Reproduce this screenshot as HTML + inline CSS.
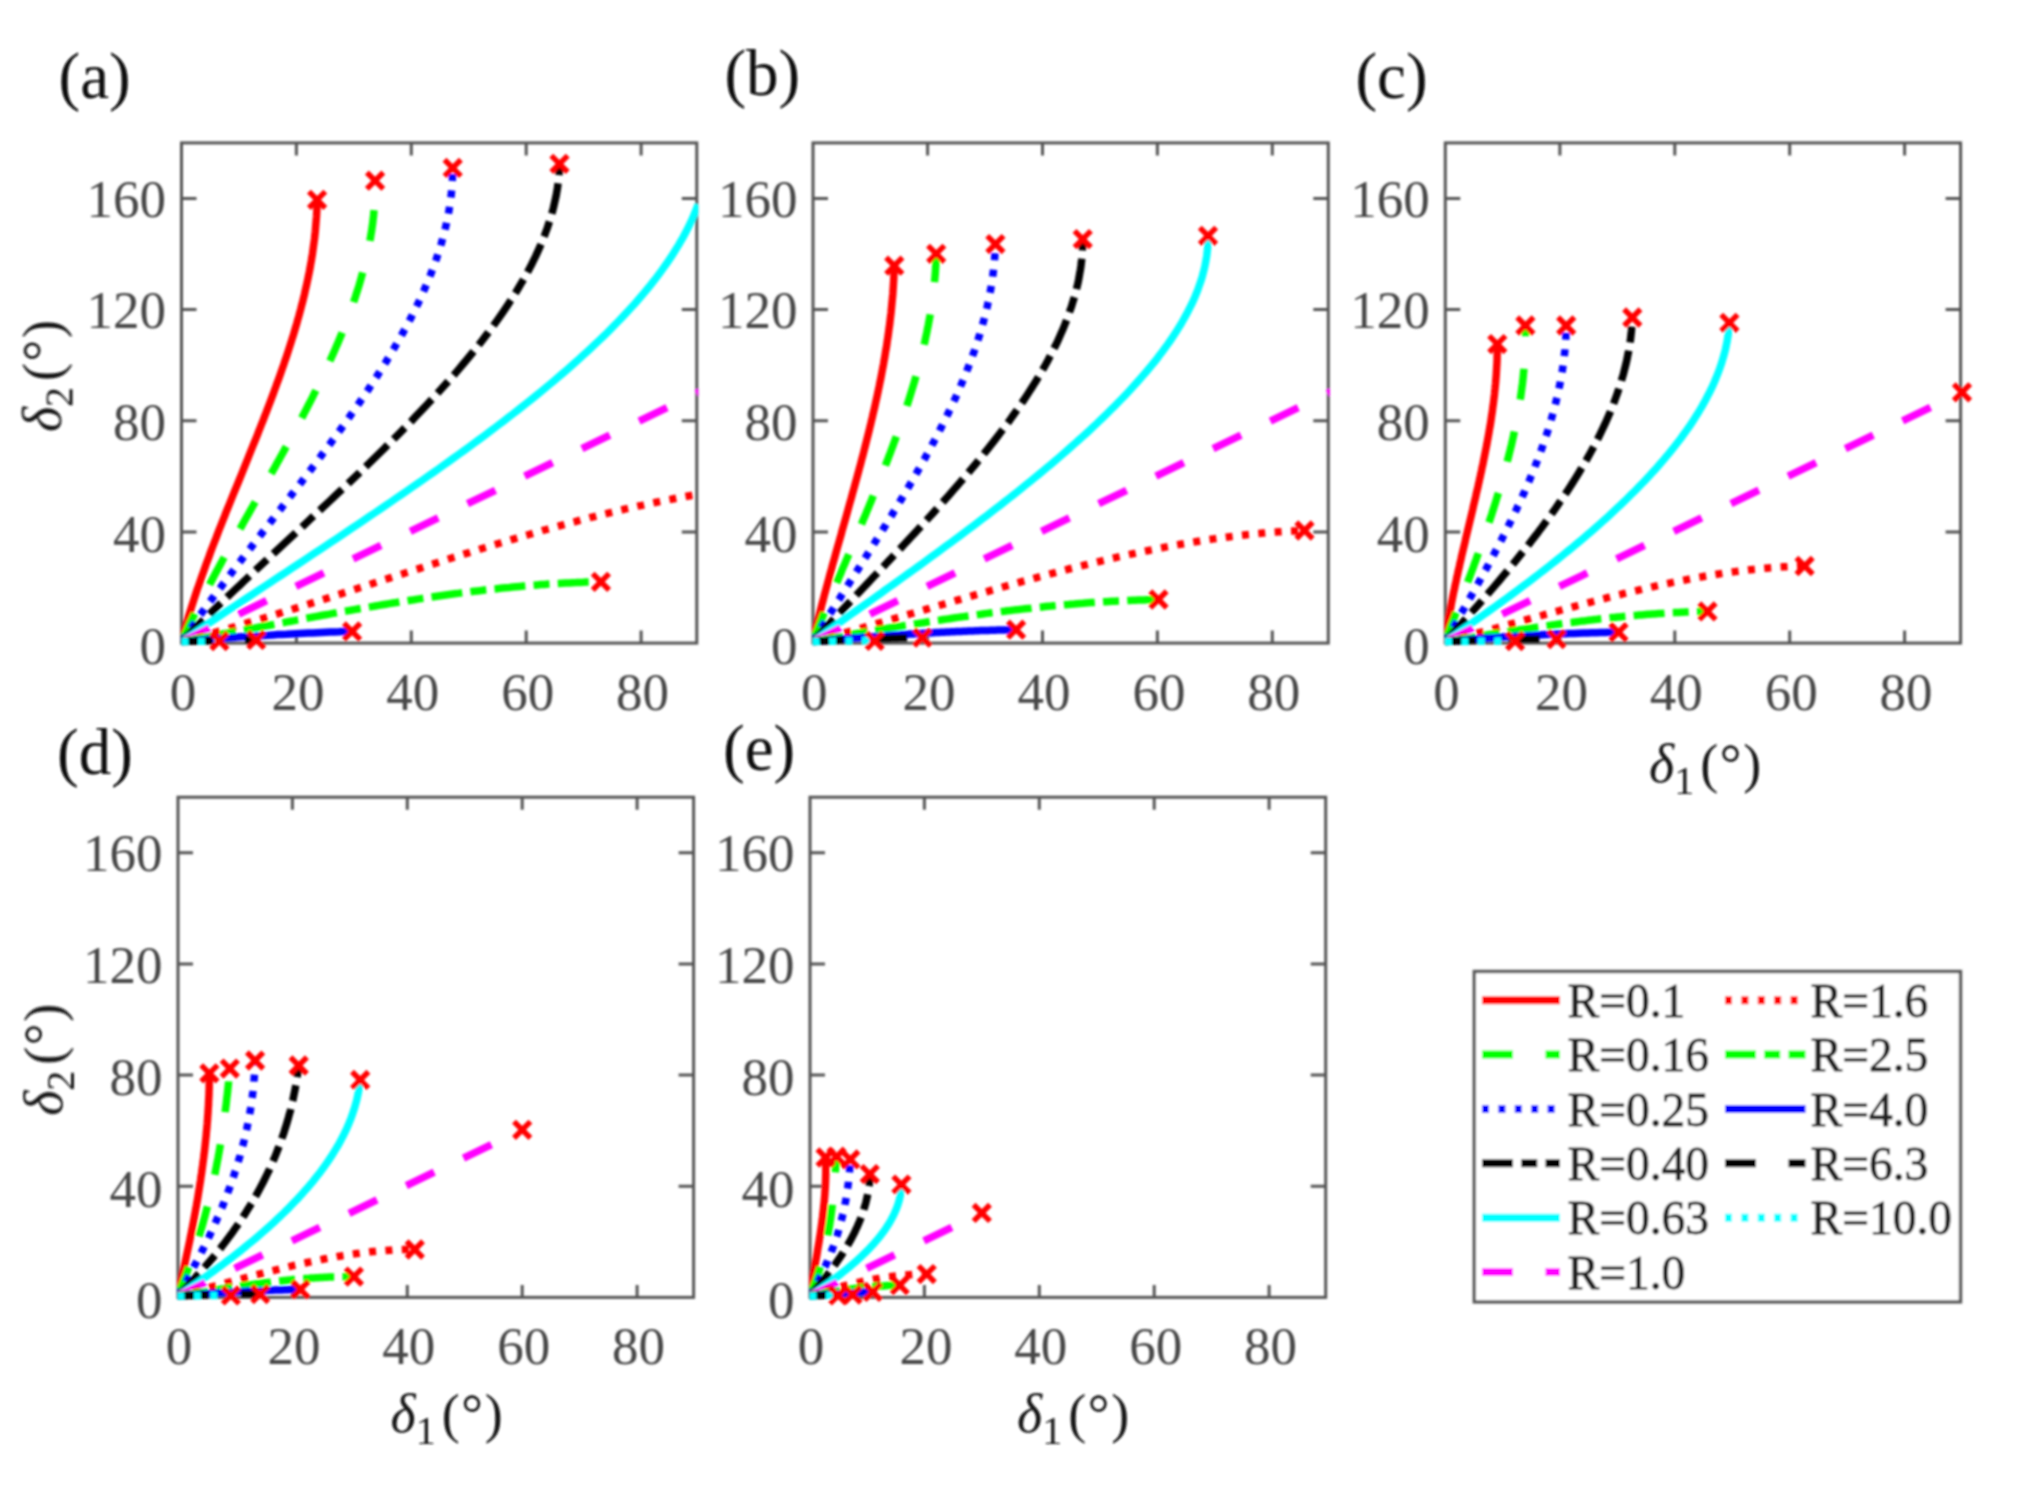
<!DOCTYPE html>
<html lang="en">
<head>
<meta charset="utf-8">
<title>Figure: delta2 versus delta1</title>
<style>
html,body{margin:0;padding:0;background:#ffffff;}
body{width:2030px;height:1488px;overflow:hidden;}
svg{display:block;font-family:"Liberation Serif", "DejaVu Serif", serif;}
svg text{font-family:"Liberation Serif", "DejaVu Serif", serif;stroke-width:0.8px;stroke-linejoin:round;}
</style>
</head>
<body>
<svg width="2030" height="1488" viewBox="0 0 2030 1488" role="img" aria-label="Five panels of delta2 versus delta1 curves for different R">
<defs><filter id="soft" x="0" y="0" width="2030" height="1488" filterUnits="userSpaceOnUse"><feGaussianBlur stdDeviation="0.9"/></filter></defs>
<rect width="2030" height="1488" fill="#ffffff"/>
<g filter="url(#soft)">
<!-- panel a -->
<g font-size="53" fill="#474747" text-anchor="middle">
<text x="183" y="710.1">0</text>
<text x="297.9" y="710.1">20</text>
<text x="412.8" y="710.1">40</text>
<text x="527.7" y="710.1">60</text>
<text x="642.6" y="710.1">80</text>
</g>
<g font-size="53" fill="#474747" text-anchor="end">
<text x="166" y="664.1">0</text>
<text x="166" y="552.2">40</text>
<text x="166" y="440.3">80</text>
<text x="166" y="328.4">120</text>
<text x="166" y="216.5">160</text>
</g>
<clipPath id="clip-a"><rect x="180.5" y="141.9" width="517.8" height="506.2"/></clipPath>
<rect x="181.5" y="142.9" width="515.3" height="500.2" fill="none" stroke="#555555" stroke-width="3.0"/>
<path d="M296.4 643.1v-12.5M296.4 142.9v12.5M411.3 643.1v-12.5M411.3 142.9v12.5M526.2 643.1v-12.5M526.2 142.9v12.5M641.1 643.1v-12.5M641.1 142.9v12.5M181.5 531.9h15M696.8 531.9h-15M181.5 420.8h15M696.8 420.8h-15M181.5 309.6h15M696.8 309.6h-15M181.5 198.5h15M696.8 198.5h-15" stroke="#555555" stroke-width="3.0" fill="none"/>
<g clip-path="url(#clip-a)" fill="none" stroke-width="7.5">
<path d="M181.5 641.6L182.5 637.9L183.5 634.2L184.5 630.5L185.6 626.8L186.6 623.1L187.7 619.4L188.8 615.7L190 612L191.1 608.3L192.3 604.6L193.5 600.9L194.7 597.2L195.9 593.5L197.1 589.8L198.4 586.2L199.7 582.5L201 578.8L202.3 575.1L203.6 571.4L204.9 567.7L206.2 564L207.6 560.3L209 556.6L210.3 552.9L211.7 549.2L213.1 545.5L214.5 541.8L216 538.1L217.4 534.4L218.8 530.7L220.3 527L221.7 523.3L223.2 519.6L224.7 515.9L226.1 512.2L227.6 508.5L229.1 504.8L230.6 501.1L232.1 497.4L233.6 493.7L235.1 490L236.6 486.3L238.1 482.7L239.6 479L241.1 475.3L242.6 471.6L244.1 467.9L245.6 464.2L247.1 460.5L248.5 456.8L250 453.1L251.5 449.4L253 445.7L254.5 442L256 438.3L257.5 434.6L258.9 430.9L260.4 427.2L261.8 423.5L263.3 419.8L264.7 416.1L266.2 412.4L267.6 408.7L269 405L270.4 401.3L271.8 397.6L273.2 393.9L274.5 390.2L275.9 386.5L277.2 382.8L278.6 379.2L279.9 375.5L281.2 371.8L282.5 368.1L283.8 364.4L285 360.7L286.3 357L287.5 353.3L288.7 349.6L289.9 345.9L291.1 342.2L292.2 338.5L293.4 334.8L294.5 331.1L295.6 327.4L296.7 323.7L297.7 320L298.8 316.3L299.8 312.6L300.8 308.9L301.7 305.2L302.7 301.5L303.6 297.8L304.5 294.1L305.3 290.4L306.2 286.7L307 283L307.8 279.3L308.5 275.7L309.3 272L310 268.3L310.6 264.6L311.3 260.9L311.9 257.2L312.5 253.5L313 249.8L313.5 246.1L314 242.4L314.5 238.7L314.9 235L315.3 231.3L315.6 227.6L315.9 223.9L316.2 220.2L316.5 216.5L316.7 212.8L316.9 209.1L317 205.4L317.1 201.7" stroke="#ff0000"/>
<path d="M181.5 641.6L183.3 637.7L185.1 633.9L186.9 630L188.7 626.1L190.5 622.2L192.4 618.4L194.3 614.5L196.2 610.6L198.2 606.7L200.1 602.9L202.1 599L204.1 595.1L206.1 591.2L208.1 587.4L210.1 583.5L212.2 579.6L214.2 575.8L216.3 571.9L218.4 568L220.5 564.1L222.6 560.3L224.7 556.4L226.8 552.5L229 548.6L231.1 544.8L233.3 540.9L235.4 537L237.6 533.1L239.8 529.3L242 525.4L244.1 521.5L246.3 517.7L248.5 513.8L250.7 509.9L252.9 506L255.1 502.2L257.3 498.3L259.5 494.4L261.7 490.5L263.9 486.7L266 482.8L268.2 478.9L270.4 475L272.6 471.2L274.8 467.3L276.9 463.4L279.1 459.6L281.2 455.7L283.4 451.8L285.5 447.9L287.7 444.1L289.8 440.2L291.9 436.3L294 432.4L296.1 428.6L298.1 424.7L300.2 420.8L302.3 416.9L304.3 413.1L306.3 409.2L308.3 405.3L310.3 401.5L312.3 397.6L314.2 393.7L316.2 389.8L318.1 386L320 382.1L321.8 378.2L323.7 374.3L325.5 370.5L327.3 366.6L329.1 362.7L330.9 358.8L332.6 355L334.4 351.1L336 347.2L337.7 343.4L339.3 339.5L341 335.6L342.5 331.7L344.1 327.9L345.6 324L347.1 320.1L348.6 316.2L350 312.4L351.4 308.5L352.8 304.6L354.1 300.7L355.4 296.9L356.6 293L357.9 289.1L359.1 285.3L360.2 281.4L361.3 277.5L362.4 273.6L363.4 269.8L364.4 265.9L365.4 262L366.3 258.1L367.2 254.3L368 250.4L368.8 246.5L369.6 242.6L370.3 238.8L370.9 234.9L371.6 231L372.1 227.2L372.7 223.3L373.1 219.4L373.6 215.5L373.9 211.7L374.3 207.8L374.5 203.9L374.8 200L374.9 196.2L375.1 192.3L375.1 188.4L375.2 184.5L375.1 180.7" stroke="#00ff00" stroke-dasharray="31 32.5"/>
<path d="M181.5 641.6L184.2 637.6L187 633.6L189.8 629.7L192.6 625.7L195.4 621.7L198.3 617.7L201.1 613.7L204 609.8L206.9 605.8L209.8 601.8L212.8 597.8L215.7 593.8L218.7 589.9L221.7 585.9L224.7 581.9L227.7 577.9L230.7 573.9L233.7 570L236.7 566L239.8 562L242.8 558L245.8 554L248.9 550.1L252 546.1L255 542.1L258.1 538.1L261.2 534.1L264.3 530.1L267.3 526.2L270.4 522.2L273.5 518.2L276.6 514.2L279.7 510.2L282.7 506.3L285.8 502.3L288.9 498.3L291.9 494.3L295 490.3L298.1 486.4L301.1 482.4L304.1 478.4L307.2 474.4L310.2 470.4L313.2 466.5L316.2 462.5L319.2 458.5L322.1 454.5L325.1 450.5L328 446.6L331 442.6L333.9 438.6L336.8 434.6L339.7 430.6L342.5 426.7L345.4 422.7L348.2 418.7L351 414.7L353.8 410.7L356.6 406.8L359.3 402.8L362 398.8L364.7 394.8L367.4 390.8L370 386.9L372.6 382.9L375.2 378.9L377.8 374.9L380.3 370.9L382.8 367L385.3 363L387.7 359L390.1 355L392.5 351L394.8 347L397.1 343.1L399.4 339.1L401.6 335.1L403.8 331.1L406 327.1L408.1 323.2L410.2 319.2L412.2 315.2L414.2 311.2L416.2 307.2L418.1 303.3L420 299.3L421.8 295.3L423.6 291.3L425.3 287.3L427 283.4L428.7 279.4L430.3 275.4L431.8 271.4L433.3 267.4L434.8 263.5L436.2 259.5L437.5 255.5L438.8 251.5L440.1 247.5L441.3 243.6L442.4 239.6L443.5 235.6L444.5 231.6L445.5 227.6L446.4 223.7L447.2 219.7L448 215.7L448.8 211.7L449.4 207.7L450 203.8L450.6 199.8L451.1 195.8L451.5 191.8L451.9 187.8L452.1 183.9L452.4 179.9L452.5 175.9L452.6 171.9L452.6 167.9" stroke="#0000ff" stroke-dasharray="7 9.4"/>
<path d="M181.5 641.6L185.5 637.6L189.6 633.6L193.6 629.6L197.7 625.5L201.8 621.5L206 617.5L210.1 613.5L214.3 609.5L218.4 605.5L222.6 601.4L226.9 597.4L231.1 593.4L235.3 589.4L239.6 585.4L243.8 581.4L248.1 577.4L252.3 573.3L256.6 569.3L260.9 565.3L265.2 561.3L269.5 557.3L273.8 553.3L278.1 549.2L282.4 545.2L286.7 541.2L291 537.2L295.3 533.2L299.6 529.2L303.9 525.2L308.2 521.1L312.5 517.1L316.8 513.1L321.1 509.1L325.4 505.1L329.6 501.1L333.9 497L338.1 493L342.4 489L346.6 485L350.8 481L355 477L359.2 473L363.3 468.9L367.5 464.9L371.6 460.9L375.7 456.9L379.8 452.9L383.9 448.9L387.9 444.8L391.9 440.8L395.9 436.8L399.9 432.8L403.8 428.8L407.8 424.8L411.7 420.8L415.5 416.7L419.4 412.7L423.2 408.7L426.9 404.7L430.7 400.7L434.4 396.7L438.1 392.6L441.7 388.6L445.3 384.6L448.9 380.6L452.4 376.6L455.9 372.6L459.3 368.6L462.7 364.5L466.1 360.5L469.4 356.5L472.7 352.5L475.9 348.5L479.1 344.5L482.2 340.4L485.3 336.4L488.4 332.4L491.4 328.4L494.3 324.4L497.2 320.4L500 316.4L502.8 312.3L505.5 308.3L508.2 304.3L510.8 300.3L513.4 296.3L515.9 292.3L518.3 288.3L520.7 284.2L523.1 280.2L525.3 276.2L527.5 272.2L529.6 268.2L531.7 264.2L533.7 260.1L535.7 256.1L537.5 252.1L539.3 248.1L541.1 244.1L542.7 240.1L544.3 236.1L545.8 232L547.3 228L548.6 224L549.9 220L551.2 216L552.3 212L553.4 207.9L554.3 203.9L555.2 199.9L556.1 195.9L556.8 191.9L557.5 187.9L558 183.9L558.5 179.8L558.9 175.8L559.2 171.8L559.5 167.8L559.6 163.8" stroke="#000000" stroke-dasharray="31 8.25 16 8.25"/>
<path d="M181.5 641.6L187 637.9L192.4 634.3L197.9 630.6L203.4 626.9L208.9 623.2L214.4 619.6L219.9 615.9L225.4 612.2L230.9 608.5L236.5 604.9L242 601.2L247.6 597.5L253.1 593.8L258.7 590.2L264.2 586.5L269.8 582.8L275.3 579.2L280.9 575.5L286.5 571.8L292 568.1L297.6 564.5L303.1 560.8L308.7 557.1L314.2 553.4L319.7 549.8L325.3 546.1L330.8 542.4L336.3 538.8L341.8 535.1L347.3 531.4L352.8 527.7L358.2 524.1L363.7 520.4L369.1 516.7L374.6 513L380 509.4L385.4 505.7L390.8 502L396.1 498.3L401.5 494.7L406.8 491L412.1 487.3L417.4 483.7L422.7 480L427.9 476.3L433.2 472.6L438.4 469L443.5 465.3L448.7 461.6L453.8 457.9L458.9 454.3L464 450.6L469 446.9L474 443.2L479 439.6L484 435.9L488.9 432.2L493.8 428.6L498.6 424.9L503.5 421.2L508.2 417.5L513 413.9L517.7 410.2L522.4 406.5L527 402.8L531.6 399.2L536.2 395.5L540.7 391.8L545.2 388.2L549.6 384.5L554 380.8L558.3 377.1L562.6 373.5L566.9 369.8L571.1 366.1L575.3 362.4L579.4 358.8L583.4 355.1L587.4 351.4L591.4 347.7L595.3 344.1L599.2 340.4L603 336.7L606.8 333.1L610.5 329.4L614.1 325.7L617.7 322L621.2 318.4L624.7 314.7L628.1 311L631.5 307.3L634.8 303.7L638 300L641.2 296.3L644.3 292.6L647.3 289L650.3 285.3L653.2 281.6L656.1 278L658.9 274.3L661.6 270.6L664.2 266.9L666.8 263.3L669.3 259.6L671.8 255.9L674.1 252.2L676.4 248.6L678.7 244.9L680.8 241.2L682.9 237.6L684.9 233.9L686.8 230.2L688.7 226.5L690.4 222.9L692.1 219.2L693.7 215.5L695.2 211.8L696.7 208.2L698.1 204.5" stroke="#00ffff"/>
<path d="M181.5 641.6L727.3 378.5" stroke="#ff00ff" stroke-dasharray="31 32.5"/>
<path d="M181.5 641.6L185.8 640.4L190.2 639.3L194.5 638.1L198.9 636.9L203.2 635.7L207.6 634.5L211.9 633.3L216.3 632.1L220.6 630.8L224.9 629.6L229.3 628.3L233.6 627.1L238 625.8L242.3 624.5L246.7 623.2L251 621.9L255.4 620.6L259.7 619.3L264.1 618L268.4 616.7L272.7 615.4L277.1 614L281.4 612.7L285.8 611.3L290.1 610L294.5 608.6L298.8 607.2L303.2 605.9L307.5 604.5L311.8 603.1L316.2 601.7L320.5 600.4L324.9 599L329.2 597.6L333.6 596.2L337.9 594.8L342.3 593.4L346.6 592L351 590.6L355.3 589.2L359.6 587.8L364 586.4L368.3 585L372.7 583.5L377 582.1L381.4 580.7L385.7 579.3L390.1 577.9L394.4 576.5L398.7 575.1L403.1 573.7L407.4 572.3L411.8 570.9L416.1 569.5L420.5 568.1L424.8 566.7L429.2 565.3L433.5 563.9L437.9 562.5L442.2 561.1L446.5 559.7L450.9 558.3L455.2 557L459.6 555.6L463.9 554.2L468.3 552.9L472.6 551.5L477 550.2L481.3 548.8L485.6 547.5L490 546.2L494.3 544.8L498.7 543.5L503 542.2L507.4 540.9L511.7 539.6L516.1 538.3L520.4 537L524.8 535.7L529.1 534.5L533.4 533.2L537.8 532L542.1 530.7L546.5 529.5L550.8 528.3L555.2 527.1L559.5 525.9L563.9 524.7L568.2 523.5L572.5 522.3L576.9 521.2L581.2 520L585.6 518.9L589.9 517.7L594.3 516.6L598.6 515.5L603 514.4L607.3 513.4L611.7 512.3L616 511.3L620.3 510.2L624.7 509.2L629 508.2L633.4 507.2L637.7 506.2L642.1 505.3L646.4 504.3L650.8 503.4L655.1 502.5L659.4 501.6L663.8 500.7L668.1 499.8L672.5 499L676.8 498.1L681.2 497.3L685.5 496.5L689.9 495.7L694.2 495L698.5 494.2" stroke="#ff0000" stroke-dasharray="7 9.4"/>
<path d="M181.5 641.6L185 641L188.5 640.3L192.1 639.7L195.6 639L199.1 638.4L202.6 637.8L206.2 637.1L209.7 636.5L213.2 635.8L216.7 635.2L220.3 634.5L223.8 633.8L227.3 633.2L230.8 632.5L234.4 631.9L237.9 631.2L241.4 630.5L244.9 629.9L248.5 629.2L252 628.5L255.5 627.9L259 627.2L262.6 626.5L266.1 625.9L269.6 625.2L273.1 624.6L276.7 623.9L280.2 623.2L283.7 622.6L287.2 621.9L290.8 621.2L294.3 620.6L297.8 619.9L301.3 619.3L304.8 618.6L308.4 617.9L311.9 617.3L315.4 616.6L318.9 616L322.5 615.3L326 614.7L329.5 614.1L333 613.4L336.6 612.8L340.1 612.1L343.6 611.5L347.1 610.9L350.7 610.3L354.2 609.6L357.7 609L361.2 608.4L364.8 607.8L368.3 607.2L371.8 606.6L375.3 606L378.9 605.4L382.4 604.8L385.9 604.2L389.4 603.6L393 603L396.5 602.5L400 601.9L403.5 601.3L407.1 600.8L410.6 600.2L414.1 599.7L417.6 599.1L421.1 598.6L424.7 598.1L428.2 597.5L431.7 597L435.2 596.5L438.8 596L442.3 595.5L445.8 595L449.3 594.5L452.9 594L456.4 593.6L459.9 593.1L463.4 592.6L467 592.2L470.5 591.7L474 591.3L477.5 590.9L481.1 590.5L484.6 590L488.1 589.6L491.6 589.2L495.2 588.9L498.7 588.5L502.2 588.1L505.7 587.7L509.3 587.4L512.8 587L516.3 586.7L519.8 586.4L523.4 586.1L526.9 585.8L530.4 585.5L533.9 585.2L537.4 584.9L541 584.6L544.5 584.4L548 584.1L551.5 583.9L555.1 583.7L558.6 583.5L562.1 583.3L565.6 583.1L569.2 582.9L572.7 582.7L576.2 582.6L579.7 582.4L583.3 582.3L586.8 582.1L590.3 582L593.8 581.9L597.4 581.8L600.9 581.8" stroke="#00ff00" stroke-dasharray="31 8.25 16 8.25"/>
<path d="M181.5 641.6L185.9 641.2L190.3 640.9L194.6 640.5L199 640.1L203.4 639.8L207.8 639.4L212.1 639.1L216.5 638.7L220.9 638.4L225.3 638.1L229.6 637.8L234 637.4L238.4 637.1L242.8 636.8L247.1 636.5L251.5 636.2L255.9 636L260.3 635.7L264.6 635.4L269 635.2L273.4 634.9L277.8 634.6L282.1 634.4L286.5 634.2L290.9 633.9L295.3 633.7L299.6 633.5L304 633.3L308.4 633.1L312.8 632.9L317.1 632.7L321.5 632.5L325.9 632.3L330.3 632.1L334.6 631.9L339 631.8L343.4 631.6L347.8 631.5L352.1 631.3" stroke="#0000ff"/>
<path d="M181.5 641.6L183.4 641.5L185.3 641.4L187.2 641.4L189.2 641.3L191.1 641.2L193 641.2L194.9 641.1L196.8 641L198.7 641L200.7 640.9L202.6 640.9L204.5 640.8L206.4 640.7L208.3 640.7L210.2 640.6L212.1 640.6L214.1 640.5L216 640.5L217.9 640.4L219.8 640.4L221.7 640.4L223.6 640.3L225.5 640.3L227.5 640.3L229.4 640.2L231.3 640.2L233.2 640.2L235.1 640.1L237 640.1L238.9 640.1L240.9 640.1L242.8 640L244.7 640L246.6 640L248.5 640L250.4 640L252.4 640L254.3 639.9L256.2 639.9" stroke="#000000" stroke-dasharray="31 32.5"/>
<path d="M181.5 641.6L182.5 641.6L183.4 641.6L184.4 641.6L185.4 641.5L186.4 641.5L187.3 641.5L188.3 641.5L189.3 641.5L190.3 641.5L191.2 641.4L192.2 641.4L193.2 641.4L194.1 641.4L195.1 641.4L196.1 641.4L197.1 641.3L198 641.3L199 641.3L200 641.3L200.9 641.3L201.9 641.3L202.9 641.3L203.9 641.2L204.8 641.2L205.8 641.2L206.8 641.2L207.8 641.2L208.7 641.2L209.7 641.2L210.7 641.2L211.6 641.1L212.6 641.1L213.6 641.1L214.6 641.1L215.5 641.1L216.5 641.1L217.5 641.1L218.4 641.1L219.4 641" stroke="#00ffff" stroke-dasharray="7 9.4"/>
</g>
<path d="M308.9 191.6l16.4 16.4M308.9 208l16.4 -16.4M366.9 172.5l16.4 16.4M366.9 188.9l16.4 -16.4M444.5 159.7l16.4 16.4M444.5 176.1l16.4 -16.4M551.3 155.6l16.4 16.4M551.3 172l16.4 -16.4M592.7 573.6l16.4 16.4M592.7 590l16.4 -16.4M343.9 623.2l16.4 16.4M343.9 639.6l16.4 -16.4M248 631.7l16.4 16.4M248 648.1l16.4 -16.4M211.2 632.8l16.4 16.4M211.2 649.2l16.4 -16.4" stroke="#ff0000" stroke-width="5.5" fill="none"/>
<!-- panel b -->
<g font-size="53" fill="#474747" text-anchor="middle">
<text x="814.2" y="710.1">0</text>
<text x="929.1" y="710.1">20</text>
<text x="1044" y="710.1">40</text>
<text x="1158.9" y="710.1">60</text>
<text x="1273.8" y="710.1">80</text>
</g>
<g font-size="53" fill="#474747" text-anchor="end">
<text x="797.5" y="664.1">0</text>
<text x="797.5" y="552.2">40</text>
<text x="797.5" y="440.3">80</text>
<text x="797.5" y="328.4">120</text>
<text x="797.5" y="216.5">160</text>
</g>
<clipPath id="clip-b"><rect x="812" y="141.9" width="517.8" height="506.2"/></clipPath>
<rect x="813" y="142.9" width="515.3" height="500.2" fill="none" stroke="#555555" stroke-width="3.0"/>
<path d="M927.6 643.1v-12.5M927.6 142.9v12.5M1042.5 643.1v-12.5M1042.5 142.9v12.5M1157.4 643.1v-12.5M1157.4 142.9v12.5M1272.3 643.1v-12.5M1272.3 142.9v12.5M813 531.9h15M1328.3 531.9h-15M813 420.8h15M1328.3 420.8h-15M813 309.6h15M1328.3 309.6h-15M813 198.5h15M1328.3 198.5h-15" stroke="#555555" stroke-width="3.0" fill="none"/>
<g clip-path="url(#clip-b)" fill="none" stroke-width="7.5">
<path d="M812.7 641.6L813.4 638.4L814.2 635.3L815 632.1L815.7 629L816.5 625.8L817.3 622.6L818.1 619.5L818.9 616.3L819.7 613.2L820.5 610L821.3 606.9L822.1 603.7L823 600.5L823.8 597.4L824.6 594.2L825.5 591.1L826.3 587.9L827.2 584.7L828 581.6L828.9 578.4L829.7 575.3L830.6 572.1L831.5 568.9L832.3 565.8L833.2 562.6L834.1 559.5L835 556.3L835.8 553.2L836.7 550L837.6 546.8L838.5 543.7L839.4 540.5L840.3 537.4L841.2 534.2L842 531L842.9 527.9L843.8 524.7L844.7 521.6L845.6 518.4L846.5 515.3L847.4 512.1L848.2 508.9L849.1 505.8L850 502.6L850.9 499.5L851.8 496.3L852.6 493.1L853.5 490L854.4 486.8L855.2 483.7L856.1 480.5L857 477.3L857.8 474.2L858.7 471L859.5 467.9L860.4 464.7L861.2 461.6L862 458.4L862.9 455.2L863.7 452.1L864.5 448.9L865.3 445.8L866.1 442.6L866.9 439.4L867.7 436.3L868.5 433.1L869.3 430L870 426.8L870.8 423.6L871.5 420.5L872.3 417.3L873 414.2L873.8 411L874.5 407.9L875.2 404.7L875.9 401.5L876.6 398.4L877.3 395.2L878 392.1L878.6 388.9L879.3 385.7L879.9 382.6L880.6 379.4L881.2 376.3L881.8 373.1L882.4 369.9L883 366.8L883.6 363.6L884.1 360.5L884.7 357.3L885.2 354.2L885.7 351L886.3 347.8L886.8 344.7L887.2 341.5L887.7 338.4L888.2 335.2L888.6 332L889 328.9L889.5 325.7L889.9 322.6L890.2 319.4L890.6 316.3L891 313.1L891.3 309.9L891.6 306.8L891.9 303.6L892.2 300.5L892.5 297.3L892.8 294.1L893 291L893.2 287.8L893.4 284.7L893.6 281.5L893.8 278.3L893.9 275.2L894.1 272L894.2 268.9L894.3 265.7" stroke="#ff0000"/>
<path d="M812.7 641.6L814 638.3L815.3 635.1L816.6 631.8L817.9 628.6L819.2 625.3L820.5 622L821.8 618.8L823.1 615.5L824.5 612.3L825.8 609L827.1 605.8L828.5 602.5L829.8 599.2L831.2 596L832.5 592.7L833.9 589.5L835.3 586.2L836.6 582.9L838 579.7L839.4 576.4L840.8 573.2L842.1 569.9L843.5 566.6L844.9 563.4L846.3 560.1L847.7 556.9L849.1 553.6L850.4 550.4L851.8 547.1L853.2 543.8L854.6 540.6L856 537.3L857.3 534.1L858.7 530.8L860.1 527.5L861.5 524.3L862.8 521L864.2 517.8L865.6 514.5L866.9 511.2L868.3 508L869.6 504.7L871 501.5L872.3 498.2L873.6 495L875 491.7L876.3 488.4L877.6 485.2L878.9 481.9L880.2 478.7L881.5 475.4L882.8 472.1L884.1 468.9L885.4 465.6L886.6 462.4L887.9 459.1L889.1 455.8L890.4 452.6L891.6 449.3L892.8 446.1L894 442.8L895.2 439.6L896.4 436.3L897.6 433L898.8 429.8L899.9 426.5L901.1 423.3L902.2 420L903.3 416.7L904.4 413.5L905.5 410.2L906.6 407L907.6 403.7L908.7 400.4L909.7 397.2L910.7 393.9L911.7 390.7L912.7 387.4L913.7 384.2L914.7 380.9L915.6 377.6L916.5 374.4L917.4 371.1L918.3 367.9L919.2 364.6L920 361.3L920.9 358.1L921.7 354.8L922.5 351.6L923.3 348.3L924 345L924.8 341.8L925.5 338.5L926.2 335.3L926.9 332L927.5 328.8L928.2 325.5L928.8 322.2L929.4 319L930 315.7L930.5 312.5L931 309.2L931.5 305.9L932 302.7L932.5 299.4L932.9 296.2L933.3 292.9L933.7 289.6L934.1 286.4L934.4 283.1L934.7 279.9L935 276.6L935.3 273.4L935.5 270.1L935.7 266.8L935.9 263.6L936 260.3L936.1 257.1L936.2 253.8" stroke="#00ff00" stroke-dasharray="31 32.5"/>
<path d="M812.7 641.6L814.8 638.3L816.8 634.9L818.9 631.6L820.9 628.2L823 624.9L825.1 621.6L827.2 618.2L829.3 614.9L831.4 611.5L833.5 608.2L835.6 604.9L837.7 601.5L839.8 598.2L841.9 594.8L844 591.5L846.1 588.2L848.2 584.8L850.3 581.5L852.4 578.1L854.5 574.8L856.6 571.5L858.8 568.1L860.9 564.8L863 561.4L865.1 558.1L867.2 554.8L869.3 551.4L871.4 548.1L873.5 544.7L875.5 541.4L877.6 538.1L879.7 534.7L881.8 531.4L883.8 528L885.9 524.7L887.9 521.3L890 518L892 514.7L894 511.3L896.1 508L898.1 504.6L900.1 501.3L902.1 498L904.1 494.6L906 491.3L908 487.9L909.9 484.6L911.9 481.3L913.8 477.9L915.7 474.6L917.6 471.2L919.5 467.9L921.4 464.6L923.3 461.2L925.1 457.9L926.9 454.5L928.8 451.2L930.6 447.9L932.3 444.5L934.1 441.2L935.9 437.8L937.6 434.5L939.3 431.2L941 427.8L942.7 424.5L944.4 421.1L946 417.8L947.6 414.5L949.2 411.1L950.8 407.8L952.4 404.4L953.9 401.1L955.5 397.8L957 394.4L958.4 391.1L959.9 387.7L961.3 384.4L962.7 381.1L964.1 377.7L965.5 374.4L966.8 371L968.1 367.7L969.4 364.4L970.7 361L971.9 357.7L973.1 354.3L974.3 351L975.4 347.7L976.6 344.3L977.7 341L978.7 337.6L979.8 334.3L980.8 331L981.8 327.6L982.7 324.3L983.6 320.9L984.5 317.6L985.4 314.3L986.2 310.9L987 307.6L987.7 304.2L988.5 300.9L989.2 297.5L989.8 294.2L990.4 290.9L991 287.5L991.6 284.2L992.1 280.8L992.6 277.5L993 274.2L993.4 270.8L993.8 267.5L994.2 264.1L994.5 260.8L994.7 257.5L994.9 254.1L995.1 250.8L995.3 247.4L995.4 244.1" stroke="#0000ff" stroke-dasharray="7 9.4"/>
<path d="M812.7 641.6L815.8 638.2L819 634.8L822.1 631.5L825.3 628.1L828.5 624.7L831.6 621.3L834.8 617.9L838 614.5L841.2 611.2L844.4 607.8L847.6 604.4L850.8 601L854 597.6L857.2 594.2L860.4 590.9L863.6 587.5L866.8 584.1L870 580.7L873.2 577.3L876.4 574L879.6 570.6L882.8 567.2L886 563.8L889.2 560.4L892.4 557L895.5 553.7L898.7 550.3L901.9 546.9L905 543.5L908.2 540.1L911.3 536.8L914.5 533.4L917.6 530L920.7 526.6L923.8 523.2L926.9 519.8L929.9 516.5L933 513.1L936 509.7L939.1 506.3L942.1 502.9L945.1 499.5L948.1 496.2L951.1 492.8L954 489.4L957 486L959.9 482.6L962.8 479.3L965.6 475.9L968.5 472.5L971.3 469.1L974.2 465.7L977 462.3L979.7 459L982.5 455.6L985.2 452.2L987.9 448.8L990.6 445.4L993.2 442.1L995.9 438.7L998.5 435.3L1001 431.9L1003.6 428.5L1006.1 425.1L1008.6 421.8L1011 418.4L1013.4 415L1015.8 411.6L1018.2 408.2L1020.5 404.8L1022.8 401.5L1025.1 398.1L1027.3 394.7L1029.5 391.3L1031.7 387.9L1033.8 384.6L1035.9 381.2L1037.9 377.8L1039.9 374.4L1041.9 371L1043.9 367.6L1045.8 364.3L1047.6 360.9L1049.4 357.5L1051.2 354.1L1052.9 350.7L1054.6 347.3L1056.3 344L1057.9 340.6L1059.4 337.2L1060.9 333.8L1062.4 330.4L1063.8 327.1L1065.2 323.7L1066.5 320.3L1067.8 316.9L1069 313.5L1070.2 310.1L1071.4 306.8L1072.4 303.4L1073.5 300L1074.5 296.6L1075.4 293.2L1076.3 289.9L1077.1 286.5L1077.9 283.1L1078.6 279.7L1079.2 276.3L1079.8 272.9L1080.4 269.6L1080.9 266.2L1081.3 262.8L1081.7 259.4L1082 256L1082.2 252.6L1082.4 249.3L1082.6 245.9L1082.7 242.5L1082.7 239.1" stroke="#000000" stroke-dasharray="31 8.25 16 8.25"/>
<path d="M812.7 641.6L817.5 638.2L822.3 634.8L827.1 631.4L831.9 628L836.7 624.5L841.6 621.1L846.4 617.7L851.2 614.3L856 610.9L860.8 607.5L865.6 604.1L870.4 600.7L875.2 597.3L880 593.9L884.7 590.4L889.5 587L894.3 583.6L899 580.2L903.8 576.8L908.5 573.4L913.3 570L918 566.6L922.7 563.2L927.4 559.8L932.1 556.3L936.7 552.9L941.4 549.5L946 546.1L950.7 542.7L955.3 539.3L959.8 535.9L964.4 532.5L969 529.1L973.5 525.7L978 522.2L982.5 518.8L987 515.4L991.4 512L995.9 508.6L1000.3 505.2L1004.6 501.8L1009 498.4L1013.3 495L1017.6 491.6L1021.9 488.1L1026.1 484.7L1030.3 481.3L1034.5 477.9L1038.7 474.5L1042.8 471.1L1046.9 467.7L1051 464.3L1055 460.9L1059 457.5L1063 454L1066.9 450.6L1070.8 447.2L1074.6 443.8L1078.4 440.4L1082.2 437L1086 433.6L1089.7 430.2L1093.3 426.8L1097 423.4L1100.5 419.9L1104.1 416.5L1107.6 413.1L1111 409.7L1114.4 406.3L1117.8 402.9L1121.1 399.5L1124.4 396.1L1127.6 392.7L1130.8 389.3L1133.9 385.8L1137 382.4L1140 379L1143 375.6L1145.9 372.2L1148.8 368.8L1151.6 365.4L1154.4 362L1157.1 358.6L1159.7 355.1L1162.3 351.7L1164.8 348.3L1167.3 344.9L1169.7 341.5L1172 338.1L1174.3 334.7L1176.5 331.3L1178.6 327.9L1180.7 324.5L1182.7 321L1184.6 317.6L1186.5 314.2L1188.3 310.8L1190 307.4L1191.7 304L1193.3 300.6L1194.8 297.2L1196.2 293.8L1197.6 290.4L1198.8 286.9L1200 283.5L1201.2 280.1L1202.2 276.7L1203.1 273.3L1204 269.9L1204.8 266.5L1205.5 263.1L1206.1 259.7L1206.7 256.3L1207.1 252.8L1207.5 249.4L1207.7 246L1207.9 242.6L1208 239.2L1208 235.8" stroke="#00ffff"/>
<path d="M812.7 641.6L1358.5 378.5" stroke="#ff00ff" stroke-dasharray="31 32.5"/>
<path d="M812.7 641.6L816.8 640.5L821 639.4L825.1 638.2L829.2 637.1L833.4 636L837.5 634.8L841.6 633.7L845.8 632.5L849.9 631.4L854 630.2L858.2 629L862.3 627.9L866.4 626.7L870.6 625.5L874.7 624.3L878.8 623.1L883 621.9L887.1 620.7L891.2 619.5L895.4 618.3L899.5 617.1L903.6 615.9L907.7 614.7L911.9 613.5L916 612.3L920.1 611.1L924.3 609.9L928.4 608.7L932.5 607.4L936.7 606.2L940.8 605L944.9 603.8L949.1 602.6L953.2 601.4L957.3 600.2L961.5 599L965.6 597.8L969.7 596.6L973.9 595.4L978 594.2L982.1 593L986.3 591.8L990.4 590.6L994.5 589.4L998.7 588.2L1002.8 587L1006.9 585.9L1011.1 584.7L1015.2 583.6L1019.3 582.4L1023.5 581.2L1027.6 580.1L1031.7 579L1035.9 577.8L1040 576.7L1044.1 575.6L1048.3 574.5L1052.4 573.4L1056.5 572.3L1060.7 571.2L1064.8 570.1L1068.9 569L1073 568L1077.2 566.9L1081.3 565.9L1085.4 564.9L1089.6 563.8L1093.7 562.8L1097.8 561.8L1102 560.8L1106.1 559.8L1110.2 558.9L1114.4 557.9L1118.5 556.9L1122.6 556L1126.8 555.1L1130.9 554.2L1135 553.3L1139.2 552.4L1143.3 551.5L1147.4 550.7L1151.6 549.8L1155.7 549L1159.8 548.2L1164 547.4L1168.1 546.6L1172.2 545.8L1176.4 545L1180.5 544.3L1184.6 543.6L1188.8 542.9L1192.9 542.2L1197 541.5L1201.2 540.8L1205.3 540.2L1209.4 539.5L1213.6 538.9L1217.7 538.3L1221.8 537.8L1226 537.2L1230.1 536.7L1234.2 536.2L1238.4 535.7L1242.5 535.2L1246.6 534.7L1250.7 534.3L1254.9 533.9L1259 533.5L1263.1 533.1L1267.3 532.7L1271.4 532.4L1275.5 532.1L1279.7 531.8L1283.8 531.5L1287.9 531.3L1292.1 531.1L1296.2 530.9L1300.3 530.7L1304.5 530.5" stroke="#ff0000" stroke-dasharray="7 9.4"/>
<path d="M812.7 641.6L815.6 641.1L818.5 640.5L821.4 640L824.3 639.5L827.2 639L830.1 638.4L833 637.9L836 637.4L838.9 636.9L841.8 636.4L844.7 635.8L847.6 635.3L850.5 634.8L853.4 634.3L856.3 633.8L859.2 633.3L862.1 632.8L865 632.3L867.9 631.8L870.8 631.3L873.7 630.8L876.6 630.3L879.5 629.8L882.5 629.3L885.4 628.8L888.3 628.3L891.2 627.8L894.1 627.3L897 626.9L899.9 626.4L902.8 625.9L905.7 625.4L908.6 625L911.5 624.5L914.4 624L917.3 623.6L920.2 623.1L923.1 622.7L926 622.2L929 621.7L931.9 621.3L934.8 620.9L937.7 620.4L940.6 620L943.5 619.5L946.4 619.1L949.3 618.7L952.2 618.2L955.1 617.8L958 617.4L960.9 617L963.8 616.6L966.7 616.2L969.6 615.8L972.5 615.4L975.5 615L978.4 614.6L981.3 614.2L984.2 613.8L987.1 613.4L990 613L992.9 612.6L995.8 612.3L998.7 611.9L1001.6 611.5L1004.5 611.2L1007.4 610.8L1010.3 610.5L1013.2 610.1L1016.1 609.8L1019 609.5L1022 609.1L1024.9 608.8L1027.8 608.5L1030.7 608.2L1033.6 607.8L1036.5 607.5L1039.4 607.2L1042.3 606.9L1045.2 606.6L1048.1 606.3L1051 606.1L1053.9 605.8L1056.8 605.5L1059.7 605.2L1062.6 605L1065.5 604.7L1068.5 604.5L1071.4 604.2L1074.3 604L1077.2 603.7L1080.1 603.5L1083 603.3L1085.9 603L1088.8 602.8L1091.7 602.6L1094.6 602.4L1097.5 602.2L1100.4 602L1103.3 601.8L1106.2 601.7L1109.1 601.5L1112 601.3L1115 601.2L1117.9 601L1120.8 600.9L1123.7 600.7L1126.6 600.6L1129.5 600.4L1132.4 600.3L1135.3 600.2L1138.2 600.1L1141.1 600L1144 599.9L1146.9 599.8L1149.8 599.7L1152.7 599.6L1155.6 599.6L1158.5 599.5" stroke="#00ff00" stroke-dasharray="31 8.25 16 8.25"/>
<path d="M812.7 641.6L814.4 641.4L816.1 641.3L817.8 641.1L819.5 641L821.2 640.8L823 640.7L824.7 640.6L826.4 640.4L828.1 640.3L829.8 640.1L831.5 640L833.2 639.8L834.9 639.7L836.6 639.5L838.3 639.4L840 639.2L841.8 639.1L843.5 639L845.2 638.8L846.9 638.7L848.6 638.5L850.3 638.4L852 638.3L853.7 638.1L855.4 638L857.1 637.9L858.8 637.7L860.6 637.6L862.3 637.5L864 637.3L865.7 637.2L867.4 637.1L869.1 636.9L870.8 636.8L872.5 636.7L874.2 636.6L875.9 636.4L877.6 636.3L879.4 636.2L881.1 636.1L882.8 635.9L884.5 635.8L886.2 635.7L887.9 635.6L889.6 635.5L891.3 635.3L893 635.2L894.7 635.1L896.4 635L898.2 634.9L899.9 634.8L901.6 634.6L903.3 634.5L905 634.4L906.7 634.3L908.4 634.2L910.1 634.1L911.8 634L913.5 633.9L915.2 633.8L917 633.7L918.7 633.6L920.4 633.5L922.1 633.4L923.8 633.3L925.5 633.2L927.2 633.1L928.9 633L930.6 632.9L932.3 632.8L934 632.7L935.7 632.6L937.5 632.5L939.2 632.4L940.9 632.3L942.6 632.3L944.3 632.2L946 632.1L947.7 632L949.4 631.9L951.1 631.8L952.8 631.8L954.5 631.7L956.3 631.6L958 631.5L959.7 631.4L961.4 631.4L963.1 631.3L964.8 631.2L966.5 631.2L968.2 631.1L969.9 631L971.6 631L973.3 630.9L975.1 630.8L976.8 630.8L978.5 630.7L980.2 630.6L981.9 630.6L983.6 630.5L985.3 630.5L987 630.4L988.7 630.4L990.4 630.3L992.1 630.3L993.9 630.2L995.6 630.2L997.3 630.1L999 630.1L1000.7 630L1002.4 630L1004.1 629.9L1005.8 629.9L1007.5 629.9L1009.2 629.8L1010.9 629.8L1012.7 629.8L1014.4 629.7L1016.1 629.7" stroke="#0000ff"/>
<path d="M812.7 641.6L815.5 641.4L818.3 641.3L821.1 641.1L824 641L826.8 640.8L829.6 640.7L832.4 640.5L835.2 640.4L838 640.3L840.8 640.1L843.6 640L846.5 639.9L849.3 639.8L852.1 639.6L854.9 639.5L857.7 639.4L860.5 639.3L863.3 639.2L866.2 639.1L869 639L871.8 638.9L874.6 638.8L877.4 638.7L880.2 638.6L883 638.6L885.9 638.5L888.7 638.4L891.5 638.3L894.3 638.3L897.1 638.2L899.9 638.1L902.7 638.1L905.5 638L908.4 637.9L911.2 637.9L914 637.8L916.8 637.8L919.6 637.8L922.4 637.7" stroke="#000000" stroke-dasharray="31 32.5"/>
<path d="M812.7 641.6L814.3 641.6L815.9 641.5L817.5 641.5L819.1 641.5L820.7 641.4L822.2 641.4L823.8 641.4L825.4 641.3L827 641.3L828.6 641.3L830.2 641.2L831.8 641.2L833.4 641.2L835 641.1L836.6 641.1L838.2 641.1L839.7 641.1L841.3 641L842.9 641L844.5 641L846.1 641L847.7 641L849.3 640.9L850.9 640.9L852.5 640.9L854.1 640.9L855.7 640.9L857.2 640.9L858.8 640.9L860.4 640.8L862 640.8L863.6 640.8L865.2 640.8L866.8 640.8L868.4 640.8L870 640.8L871.6 640.8L873.2 640.8L874.7 640.8" stroke="#00ffff" stroke-dasharray="7 9.4"/>
</g>
<path d="M886.1 257.5l16.4 16.4M886.1 273.9l16.4 -16.4M928 245.6l16.4 16.4M928 262l16.4 -16.4M987.2 235.9l16.4 16.4M987.2 252.3l16.4 -16.4M1074.5 230.9l16.4 16.4M1074.5 247.3l16.4 -16.4M1199.8 227.6l16.4 16.4M1199.8 244l16.4 -16.4M1296.3 522.3l16.4 16.4M1296.3 538.7l16.4 -16.4M1150.3 591.3l16.4 16.4M1150.3 607.7l16.4 -16.4M1007.9 621.5l16.4 16.4M1007.9 637.9l16.4 -16.4M914.2 629.5l16.4 16.4M914.2 645.9l16.4 -16.4M866.5 632.6l16.4 16.4M866.5 649l16.4 -16.4" stroke="#ff0000" stroke-width="5.5" fill="none"/>
<!-- panel c -->
<g font-size="53" fill="#474747" text-anchor="middle">
<text x="1446.5" y="710.1">0</text>
<text x="1561.4" y="710.1">20</text>
<text x="1676.3" y="710.1">40</text>
<text x="1791.2" y="710.1">60</text>
<text x="1906.1" y="710.1">80</text>
</g>
<g font-size="53" fill="#474747" text-anchor="end">
<text x="1429.8" y="664.1">0</text>
<text x="1429.8" y="552.2">40</text>
<text x="1429.8" y="440.3">80</text>
<text x="1429.8" y="328.4">120</text>
<text x="1429.8" y="216.5">160</text>
</g>
<clipPath id="clip-c"><rect x="1444.3" y="141.9" width="517.8" height="506.2"/></clipPath>
<rect x="1445.3" y="142.9" width="515.3" height="500.2" fill="none" stroke="#555555" stroke-width="3.0"/>
<path d="M1559.9 643.1v-12.5M1559.9 142.9v12.5M1674.8 643.1v-12.5M1674.8 142.9v12.5M1789.7 643.1v-12.5M1789.7 142.9v12.5M1904.6 643.1v-12.5M1904.6 142.9v12.5M1445.3 531.9h15M1960.6 531.9h-15M1445.3 420.8h15M1960.6 420.8h-15M1445.3 309.6h15M1960.6 309.6h-15M1445.3 198.5h15M1960.6 198.5h-15" stroke="#555555" stroke-width="3.0" fill="none"/>
<g clip-path="url(#clip-c)" fill="none" stroke-width="7.5">
<path d="M1445 641.6L1445.4 639.1L1445.7 636.6L1446.1 634.1L1446.5 631.6L1446.9 629.1L1447.3 626.6L1447.7 624.1L1448.1 621.6L1448.6 619.1L1449 616.6L1449.5 614.1L1449.9 611.6L1450.4 609.1L1450.9 606.6L1451.3 604.1L1451.8 601.6L1452.3 599.1L1452.8 596.6L1453.3 594.1L1453.8 591.6L1454.4 589.1L1454.9 586.6L1455.4 584.1L1456 581.6L1456.5 579.1L1457 576.6L1457.6 574.1L1458.1 571.6L1458.7 569.1L1459.3 566.6L1459.8 564.1L1460.4 561.6L1461 559.1L1461.5 556.6L1462.1 554.1L1462.7 551.6L1463.3 549.1L1463.9 546.6L1464.5 544.1L1465.1 541.6L1465.6 539.1L1466.2 536.6L1466.8 534.1L1467.4 531.6L1468 529.1L1468.6 526.6L1469.2 524.1L1469.8 521.6L1470.4 519.1L1471 516.6L1471.6 514.1L1472.2 511.6L1472.8 509.1L1473.3 506.6L1473.9 504.1L1474.5 501.6L1475.1 499.1L1475.7 496.6L1476.2 494.1L1476.8 491.6L1477.4 489.1L1478 486.6L1478.5 484.1L1479.1 481.6L1479.6 479.1L1480.2 476.6L1480.7 474.1L1481.3 471.6L1481.8 469.1L1482.3 466.6L1482.9 464.1L1483.4 461.6L1483.9 459.1L1484.4 456.6L1484.9 454.1L1485.4 451.6L1485.9 449.1L1486.4 446.6L1486.9 444.1L1487.3 441.6L1487.8 439.1L1488.2 436.6L1488.7 434.1L1489.1 431.6L1489.5 429.1L1490 426.6L1490.4 424.1L1490.8 421.6L1491.2 419.1L1491.5 416.6L1491.9 414.1L1492.3 411.6L1492.6 409.1L1492.9 406.6L1493.3 404.1L1493.6 401.6L1493.9 399.1L1494.2 396.6L1494.5 394.1L1494.7 391.6L1495 389.1L1495.2 386.6L1495.5 384.1L1495.7 381.6L1495.9 379.1L1496.1 376.6L1496.3 374.1L1496.4 371.6L1496.6 369.1L1496.7 366.6L1496.9 364.1L1497 361.6L1497.1 359.1L1497.1 356.6L1497.2 354.1L1497.2 351.6L1497.3 349.1L1497.3 346.6L1497.3 344.1" stroke="#ff0000"/>
<path d="M1445 641.6L1446 638.9L1447 636.3L1448.1 633.6L1449.1 631L1450.1 628.3L1451.1 625.7L1452.2 623L1453.2 620.4L1454.2 617.7L1455.2 615L1456.2 612.4L1457.3 609.7L1458.3 607.1L1459.3 604.4L1460.3 601.8L1461.3 599.1L1462.3 596.4L1463.3 593.8L1464.3 591.1L1465.3 588.5L1466.3 585.8L1467.3 583.2L1468.3 580.5L1469.3 577.9L1470.3 575.2L1471.3 572.5L1472.3 569.9L1473.3 567.2L1474.2 564.6L1475.2 561.9L1476.2 559.3L1477.1 556.6L1478.1 554L1479 551.3L1480 548.6L1480.9 546L1481.9 543.3L1482.8 540.7L1483.7 538L1484.6 535.4L1485.6 532.7L1486.5 530.1L1487.4 527.4L1488.3 524.7L1489.2 522.1L1490 519.4L1490.9 516.8L1491.8 514.1L1492.6 511.5L1493.5 508.8L1494.3 506.1L1495.2 503.5L1496 500.8L1496.8 498.2L1497.6 495.5L1498.5 492.9L1499.3 490.2L1500 487.6L1500.8 484.9L1501.6 482.2L1502.4 479.6L1503.1 476.9L1503.9 474.3L1504.6 471.6L1505.3 469L1506 466.3L1506.7 463.7L1507.4 461L1508.1 458.3L1508.8 455.7L1509.4 453L1510.1 450.4L1510.7 447.7L1511.4 445.1L1512 442.4L1512.6 439.7L1513.2 437.1L1513.8 434.4L1514.3 431.8L1514.9 429.1L1515.4 426.5L1516 423.8L1516.5 421.2L1517 418.5L1517.5 415.8L1518 413.2L1518.5 410.5L1518.9 407.9L1519.4 405.2L1519.8 402.6L1520.2 399.9L1520.6 397.3L1521 394.6L1521.3 391.9L1521.7 389.3L1522 386.6L1522.4 384L1522.7 381.3L1523 378.7L1523.3 376L1523.5 373.3L1523.8 370.7L1524 368L1524.2 365.4L1524.4 362.7L1524.6 360.1L1524.8 357.4L1524.9 354.8L1525.1 352.1L1525.2 349.4L1525.3 346.8L1525.3 344.1L1525.4 341.5L1525.5 338.8L1525.5 336.2L1525.5 333.5L1525.5 330.9L1525.5 328.2L1525.4 325.5" stroke="#00ff00" stroke-dasharray="31 32.5"/>
<path d="M1445 641.6L1446.5 638.9L1448.1 636.3L1449.6 633.6L1451.2 631L1452.7 628.3L1454.2 625.7L1455.8 623L1457.3 620.4L1458.8 617.7L1460.3 615L1461.8 612.4L1463.4 609.7L1464.9 607.1L1466.4 604.4L1467.9 601.8L1469.4 599.1L1470.9 596.4L1472.4 593.8L1473.9 591.1L1475.4 588.5L1476.8 585.8L1478.3 583.2L1479.8 580.5L1481.2 577.9L1482.7 575.2L1484.1 572.5L1485.6 569.9L1487 567.2L1488.5 564.6L1489.9 561.9L1491.3 559.3L1492.7 556.6L1494.1 554L1495.5 551.3L1496.9 548.6L1498.3 546L1499.7 543.3L1501 540.7L1502.4 538L1503.7 535.4L1505.1 532.7L1506.4 530.1L1507.7 527.4L1509 524.7L1510.3 522.1L1511.6 519.4L1512.9 516.8L1514.2 514.1L1515.4 511.5L1516.7 508.8L1517.9 506.1L1519.2 503.5L1520.4 500.8L1521.6 498.2L1522.8 495.5L1524 492.9L1525.1 490.2L1526.3 487.6L1527.4 484.9L1528.6 482.2L1529.7 479.6L1530.8 476.9L1531.9 474.3L1533 471.6L1534.1 469L1535.1 466.3L1536.1 463.7L1537.2 461L1538.2 458.3L1539.2 455.7L1540.2 453L1541.1 450.4L1542.1 447.7L1543 445.1L1543.9 442.4L1544.9 439.7L1545.7 437.1L1546.6 434.4L1547.5 431.8L1548.3 429.1L1549.1 426.5L1550 423.8L1550.7 421.2L1551.5 418.5L1552.3 415.8L1553 413.2L1553.7 410.5L1554.4 407.9L1555.1 405.2L1555.8 402.6L1556.4 399.9L1557.1 397.3L1557.7 394.6L1558.3 391.9L1558.8 389.3L1559.4 386.6L1559.9 384L1560.4 381.3L1560.9 378.7L1561.4 376L1561.9 373.3L1562.3 370.7L1562.7 368L1563.1 365.4L1563.4 362.7L1563.8 360.1L1564.1 357.4L1564.4 354.8L1564.7 352.1L1565 349.4L1565.2 346.8L1565.4 344.1L1565.6 341.5L1565.8 338.8L1565.9 336.2L1566 333.5L1566.1 330.9L1566.2 328.2L1566.2 325.5" stroke="#0000ff" stroke-dasharray="7 9.4"/>
<path d="M1445 641.6L1447.5 638.9L1450 636.2L1452.5 633.4L1455 630.7L1457.5 628L1460 625.3L1462.4 622.5L1464.9 619.8L1467.3 617.1L1469.8 614.4L1472.2 611.6L1474.6 608.9L1477.1 606.2L1479.5 603.5L1481.9 600.7L1484.2 598L1486.6 595.3L1489 592.6L1491.3 589.9L1493.7 587.1L1496 584.4L1498.3 581.7L1500.6 579L1502.9 576.2L1505.2 573.5L1507.5 570.8L1509.7 568.1L1512 565.3L1514.2 562.6L1516.4 559.9L1518.6 557.2L1520.8 554.4L1523 551.7L1525.1 549L1527.3 546.3L1529.4 543.6L1531.5 540.8L1533.6 538.1L1535.7 535.4L1537.8 532.7L1539.8 529.9L1541.9 527.2L1543.9 524.5L1545.9 521.8L1547.9 519L1549.9 516.3L1551.8 513.6L1553.7 510.9L1555.7 508.2L1557.6 505.4L1559.4 502.7L1561.3 500L1563.1 497.3L1565 494.5L1566.8 491.8L1568.6 489.1L1570.3 486.4L1572.1 483.6L1573.8 480.9L1575.5 478.2L1577.2 475.5L1578.9 472.7L1580.5 470L1582.1 467.3L1583.8 464.6L1585.3 461.9L1586.9 459.1L1588.4 456.4L1589.9 453.7L1591.4 451L1592.9 448.2L1594.4 445.5L1595.8 442.8L1597.2 440.1L1598.6 437.3L1599.9 434.6L1601.2 431.9L1602.5 429.2L1603.8 426.4L1605.1 423.7L1606.3 421L1607.5 418.3L1608.7 415.6L1609.9 412.8L1611 410.1L1612.1 407.4L1613.2 404.7L1614.2 401.9L1615.2 399.2L1616.2 396.5L1617.2 393.8L1618.1 391L1619 388.3L1619.9 385.6L1620.8 382.9L1621.6 380.1L1622.4 377.4L1623.2 374.7L1623.9 372L1624.6 369.3L1625.3 366.5L1626 363.8L1626.6 361.1L1627.2 358.4L1627.7 355.6L1628.3 352.9L1628.8 350.2L1629.3 347.5L1629.7 344.7L1630.1 342L1630.5 339.3L1630.8 336.6L1631.1 333.9L1631.4 331.1L1631.6 328.4L1631.9 325.7L1632 323L1632.2 320.2L1632.3 317.5" stroke="#000000" stroke-dasharray="31 8.25 16 8.25"/>
<path d="M1445 641.6L1448.9 638.9L1452.9 636.2L1456.8 633.6L1460.6 630.9L1464.5 628.2L1468.4 625.5L1472.2 622.8L1476 620.2L1479.8 617.5L1483.6 614.8L1487.4 612.1L1491.2 609.4L1494.9 606.8L1498.6 604.1L1502.3 601.4L1506 598.7L1509.6 596.1L1513.3 593.4L1516.9 590.7L1520.5 588L1524.1 585.3L1527.6 582.7L1531.2 580L1534.7 577.3L1538.2 574.6L1541.6 571.9L1545.1 569.3L1548.5 566.6L1551.9 563.9L1555.3 561.2L1558.7 558.5L1562 555.9L1565.3 553.2L1568.6 550.5L1571.9 547.8L1575.1 545.1L1578.3 542.5L1581.5 539.8L1584.7 537.1L1587.8 534.4L1590.9 531.8L1594 529.1L1597.1 526.4L1600.1 523.7L1603.1 521L1606.1 518.4L1609 515.7L1611.9 513L1614.8 510.3L1617.7 507.6L1620.5 505L1623.3 502.3L1626.1 499.6L1628.8 496.9L1631.5 494.2L1634.2 491.6L1636.9 488.9L1639.5 486.2L1642.1 483.5L1644.7 480.8L1647.2 478.2L1649.7 475.5L1652.1 472.8L1654.6 470.1L1657 467.5L1659.3 464.8L1661.7 462.1L1664 459.4L1666.2 456.7L1668.4 454.1L1670.6 451.4L1672.8 448.7L1674.9 446L1677 443.3L1679 440.7L1681.1 438L1683 435.3L1685 432.6L1686.9 429.9L1688.8 427.3L1690.6 424.6L1692.4 421.9L1694.1 419.2L1695.8 416.5L1697.5 413.9L1699.2 411.2L1700.7 408.5L1702.3 405.8L1703.8 403.1L1705.3 400.5L1706.7 397.8L1708.1 395.1L1709.5 392.4L1710.8 389.8L1712.1 387.1L1713.3 384.4L1714.5 381.7L1715.6 379L1716.7 376.4L1717.8 373.7L1718.8 371L1719.8 368.3L1720.7 365.6L1721.6 363L1722.4 360.3L1723.2 357.6L1724 354.9L1724.7 352.2L1725.4 349.6L1726 346.9L1726.5 344.2L1727.1 341.5L1727.5 338.8L1728 336.2L1728.3 333.5L1728.7 330.8L1728.9 328.1L1729.2 325.5L1729.4 322.8" stroke="#00ffff"/>
<path d="M1445 641.6L1962 392.3" stroke="#ff00ff" stroke-dasharray="31 32.5"/>
<path d="M1445 641.6L1448 640.8L1451 640.1L1454.1 639.3L1457.1 638.5L1460.1 637.7L1463.1 636.9L1466.2 636.1L1469.2 635.3L1472.2 634.5L1475.2 633.7L1478.2 632.9L1481.3 632.1L1484.3 631.3L1487.3 630.5L1490.3 629.6L1493.4 628.8L1496.4 628L1499.4 627.2L1502.4 626.3L1505.4 625.5L1508.5 624.7L1511.5 623.8L1514.5 623L1517.5 622.2L1520.6 621.3L1523.6 620.5L1526.6 619.6L1529.6 618.8L1532.6 618L1535.7 617.1L1538.7 616.3L1541.7 615.5L1544.7 614.6L1547.8 613.8L1550.8 613L1553.8 612.1L1556.8 611.3L1559.8 610.5L1562.9 609.6L1565.9 608.8L1568.9 608L1571.9 607.2L1575 606.3L1578 605.5L1581 604.7L1584 603.9L1587 603.1L1590.1 602.3L1593.1 601.5L1596.1 600.7L1599.1 599.9L1602.2 599.1L1605.2 598.3L1608.2 597.5L1611.2 596.8L1614.2 596L1617.3 595.2L1620.3 594.5L1623.3 593.7L1626.3 593L1629.4 592.2L1632.4 591.5L1635.4 590.8L1638.4 590.1L1641.4 589.4L1644.5 588.6L1647.5 587.9L1650.5 587.3L1653.5 586.6L1656.6 585.9L1659.6 585.2L1662.6 584.6L1665.6 583.9L1668.6 583.3L1671.7 582.6L1674.7 582L1677.7 581.4L1680.7 580.8L1683.8 580.2L1686.8 579.6L1689.8 579L1692.8 578.4L1695.8 577.9L1698.9 577.3L1701.9 576.8L1704.9 576.2L1707.9 575.7L1711 575.2L1714 574.7L1717 574.2L1720 573.8L1723 573.3L1726.1 572.8L1729.1 572.4L1732.1 572L1735.1 571.6L1738.1 571.2L1741.2 570.8L1744.2 570.4L1747.2 570.1L1750.2 569.7L1753.3 569.4L1756.3 569.1L1759.3 568.8L1762.3 568.5L1765.3 568.2L1768.4 567.9L1771.4 567.7L1774.4 567.4L1777.4 567.2L1780.5 567L1783.5 566.8L1786.5 566.7L1789.5 566.5L1792.5 566.4L1795.6 566.3L1798.6 566.1L1801.6 566.1L1804.6 566" stroke="#ff0000" stroke-dasharray="7 9.4"/>
<path d="M1445 641.6L1447.2 641.2L1449.4 640.9L1451.6 640.5L1453.8 640.2L1456 639.8L1458.2 639.5L1460.4 639.1L1462.7 638.8L1464.9 638.4L1467.1 638.1L1469.3 637.7L1471.5 637.4L1473.7 637L1475.9 636.6L1478.1 636.3L1480.3 635.9L1482.5 635.6L1484.7 635.2L1486.9 634.9L1489.1 634.5L1491.3 634.2L1493.5 633.8L1495.7 633.5L1498 633.2L1500.2 632.8L1502.4 632.5L1504.6 632.1L1506.8 631.8L1509 631.4L1511.2 631.1L1513.4 630.8L1515.6 630.4L1517.8 630.1L1520 629.8L1522.2 629.4L1524.4 629.1L1526.6 628.8L1528.8 628.4L1531 628.1L1533.3 627.8L1535.5 627.5L1537.7 627.1L1539.9 626.8L1542.1 626.5L1544.3 626.2L1546.5 625.9L1548.7 625.6L1550.9 625.3L1553.1 624.9L1555.3 624.6L1557.5 624.3L1559.7 624L1561.9 623.7L1564.1 623.4L1566.3 623.1L1568.6 622.8L1570.8 622.6L1573 622.3L1575.2 622L1577.4 621.7L1579.6 621.4L1581.8 621.1L1584 620.9L1586.2 620.6L1588.4 620.3L1590.6 620.1L1592.8 619.8L1595 619.5L1597.2 619.3L1599.4 619L1601.6 618.8L1603.9 618.5L1606.1 618.3L1608.3 618.1L1610.5 617.8L1612.7 617.6L1614.9 617.4L1617.1 617.1L1619.3 616.9L1621.5 616.7L1623.7 616.5L1625.9 616.3L1628.1 616L1630.3 615.8L1632.5 615.6L1634.7 615.4L1636.9 615.3L1639.2 615.1L1641.4 614.9L1643.6 614.7L1645.8 614.5L1648 614.3L1650.2 614.2L1652.4 614L1654.6 613.9L1656.8 613.7L1659 613.5L1661.2 613.4L1663.4 613.3L1665.6 613.1L1667.8 613L1670 612.9L1672.2 612.7L1674.5 612.6L1676.7 612.5L1678.9 612.4L1681.1 612.3L1683.3 612.2L1685.5 612.1L1687.7 612L1689.9 611.9L1692.1 611.8L1694.3 611.7L1696.5 611.7L1698.7 611.6L1700.9 611.6L1703.1 611.5L1705.3 611.4L1707.5 611.4" stroke="#00ff00" stroke-dasharray="31 8.25 16 8.25"/>
<path d="M1445 641.6L1449.4 641.2L1453.9 640.8L1458.3 640.4L1462.8 640.1L1467.2 639.7L1471.7 639.3L1476.1 639L1480.6 638.6L1485 638.3L1489.5 638L1493.9 637.7L1498.4 637.4L1502.8 637.1L1507.3 636.8L1511.7 636.5L1516.2 636.2L1520.6 635.9L1525.1 635.7L1529.5 635.4L1534 635.2L1538.4 634.9L1542.9 634.7L1547.3 634.5L1551.8 634.3L1556.2 634.1L1560.7 633.9L1565.1 633.7L1569.6 633.5L1574 633.4L1578.5 633.2L1582.9 633.1L1587.4 632.9L1591.8 632.8L1596.3 632.7L1600.7 632.5L1605.2 632.4L1609.6 632.3L1614.1 632.2L1618.5 632.2" stroke="#0000ff"/>
<path d="M1445 641.6L1447.9 641.5L1450.7 641.3L1453.6 641.2L1456.4 641.1L1459.3 641L1462.1 640.9L1465 640.8L1467.9 640.7L1470.7 640.6L1473.6 640.5L1476.4 640.4L1479.3 640.3L1482.2 640.2L1485 640.1L1487.9 640L1490.7 639.9L1493.6 639.9L1496.4 639.8L1499.3 639.7L1502.2 639.7L1505 639.6L1507.9 639.6L1510.7 639.5L1513.6 639.4L1516.4 639.4L1519.3 639.4L1522.2 639.3L1525 639.3L1527.9 639.2L1530.7 639.2L1533.6 639.2L1536.4 639.2L1539.3 639.1L1542.2 639.1L1545 639.1L1547.9 639.1L1550.7 639.1L1553.6 639.1L1556.5 639.1" stroke="#000000" stroke-dasharray="31 32.5"/>
<path d="M1445 641.6L1446.8 641.6L1448.6 641.6L1450.4 641.5L1452.2 641.5L1454 641.5L1455.8 641.5L1457.6 641.5L1459.4 641.5L1461.2 641.4L1463 641.4L1464.8 641.4L1466.6 641.4L1468.4 641.4L1470.2 641.4L1472 641.3L1473.8 641.3L1475.6 641.3L1477.3 641.3L1479.1 641.3L1480.9 641.3L1482.7 641.3L1484.5 641.2L1486.3 641.2L1488.1 641.2L1489.9 641.2L1491.7 641.2L1493.5 641.2L1495.3 641.2L1497.1 641.1L1498.9 641.1L1500.7 641.1L1502.5 641.1L1504.3 641.1L1506.1 641.1L1507.9 641.1L1509.7 641.1L1511.5 641.1L1513.3 641.1L1515.1 641" stroke="#00ffff" stroke-dasharray="7 9.4"/>
</g>
<path d="M1489.1 335.9l16.4 16.4M1489.1 352.3l16.4 -16.4M1517.2 317.3l16.4 16.4M1517.2 333.7l16.4 -16.4M1558 317.3l16.4 16.4M1558 333.7l16.4 -16.4M1624.1 309.3l16.4 16.4M1624.1 325.7l16.4 -16.4M1721.2 314.6l16.4 16.4M1721.2 331l16.4 -16.4M1953.8 384.1l16.4 16.4M1953.8 400.5l16.4 -16.4M1796.4 557.8l16.4 16.4M1796.4 574.2l16.4 -16.4M1699.3 603.2l16.4 16.4M1699.3 619.6l16.4 -16.4M1610.3 624l16.4 16.4M1610.3 640.4l16.4 -16.4M1548.3 630.9l16.4 16.4M1548.3 647.3l16.4 -16.4M1506.9 632.8l16.4 16.4M1506.9 649.2l16.4 -16.4" stroke="#ff0000" stroke-width="5.5" fill="none"/>
<!-- panel d -->
<g font-size="53" fill="#474747" text-anchor="middle">
<text x="179" y="1364.4">0</text>
<text x="293.9" y="1364.4">20</text>
<text x="408.8" y="1364.4">40</text>
<text x="523.7" y="1364.4">60</text>
<text x="638.6" y="1364.4">80</text>
</g>
<g font-size="53" fill="#474747" text-anchor="end">
<text x="162.5" y="1318.4">0</text>
<text x="162.5" y="1206.5">40</text>
<text x="162.5" y="1094.6">80</text>
<text x="162.5" y="982.7">120</text>
<text x="162.5" y="870.8">160</text>
</g>
<clipPath id="clip-d"><rect x="177" y="796.2" width="518.1" height="506.2"/></clipPath>
<rect x="178" y="797.2" width="515.6" height="500.2" fill="none" stroke="#555555" stroke-width="3.0"/>
<path d="M292.4 1297.4v-12.5M292.4 797.2v12.5M407.3 1297.4v-12.5M407.3 797.2v12.5M522.2 1297.4v-12.5M522.2 797.2v12.5M637.1 1297.4v-12.5M637.1 797.2v12.5M178 1186.2h15M693.6 1186.2h-15M178 1075.1h15M693.6 1075.1h-15M178 963.9h15M693.6 963.9h-15M178 852.8h15M693.6 852.8h-15" stroke="#555555" stroke-width="3.0" fill="none"/>
<g clip-path="url(#clip-d)" fill="none" stroke-width="7.5">
<path d="M177.5 1296L177.9 1294.1L178.4 1292.3L178.8 1290.4L179.2 1288.5L179.7 1286.6L180.1 1284.8L180.5 1282.9L181 1281L181.4 1279.2L181.8 1277.3L182.2 1275.4L182.6 1273.5L183.1 1271.7L183.5 1269.8L183.9 1267.9L184.3 1266.1L184.7 1264.2L185.1 1262.3L185.5 1260.4L185.9 1258.6L186.3 1256.7L186.7 1254.8L187.1 1253L187.5 1251.1L187.9 1249.2L188.3 1247.3L188.7 1245.5L189.1 1243.6L189.5 1241.7L189.9 1239.9L190.2 1238L190.6 1236.1L191 1234.2L191.4 1232.4L191.7 1230.5L192.1 1228.6L192.5 1226.8L192.8 1224.9L193.2 1223L193.5 1221.1L193.9 1219.3L194.2 1217.4L194.6 1215.5L194.9 1213.7L195.3 1211.8L195.6 1209.9L195.9 1208L196.3 1206.2L196.6 1204.3L196.9 1202.4L197.3 1200.6L197.6 1198.7L197.9 1196.8L198.2 1194.9L198.5 1193.1L198.8 1191.2L199.1 1189.3L199.4 1187.5L199.7 1185.6L200 1183.7L200.3 1181.8L200.6 1180L200.8 1178.1L201.1 1176.2L201.4 1174.4L201.7 1172.5L201.9 1170.6L202.2 1168.7L202.4 1166.9L202.7 1165L202.9 1163.1L203.2 1161.3L203.4 1159.4L203.7 1157.5L203.9 1155.6L204.1 1153.8L204.4 1151.9L204.6 1150L204.8 1148.2L205 1146.3L205.2 1144.4L205.4 1142.5L205.6 1140.7L205.8 1138.8L206 1136.9L206.2 1135.1L206.3 1133.2L206.5 1131.3L206.7 1129.4L206.9 1127.6L207 1125.7L207.2 1123.8L207.3 1122L207.5 1120.1L207.6 1118.2L207.7 1116.3L207.9 1114.5L208 1112.6L208.1 1110.7L208.2 1108.9L208.3 1107L208.5 1105.1L208.5 1103.2L208.6 1101.4L208.7 1099.5L208.8 1097.6L208.9 1095.7L209 1093.9L209 1092L209.1 1090.1L209.2 1088.3L209.2 1086.4L209.2 1084.5L209.3 1082.6L209.3 1080.8L209.3 1078.9L209.4 1077L209.4 1075.2L209.4 1073.3" stroke="#ff0000"/>
<path d="M177.5 1296L178.3 1294.1L179.1 1292.2L179.9 1290.3L180.7 1288.4L181.4 1286.4L182.2 1284.5L182.9 1282.6L183.7 1280.7L184.4 1278.8L185.2 1276.9L185.9 1275L186.6 1273.1L187.3 1271.2L188 1269.2L188.7 1267.3L189.4 1265.4L190.1 1263.5L190.8 1261.6L191.4 1259.7L192.1 1257.8L192.7 1255.9L193.4 1254L194 1252L194.7 1250.1L195.3 1248.2L195.9 1246.3L196.5 1244.4L197.1 1242.5L197.7 1240.6L198.3 1238.7L198.9 1236.8L199.5 1234.8L200.1 1232.9L200.7 1231L201.2 1229.1L201.8 1227.2L202.3 1225.3L202.9 1223.4L203.4 1221.5L203.9 1219.6L204.5 1217.6L205 1215.7L205.5 1213.8L206 1211.9L206.5 1210L207 1208.1L207.5 1206.2L208 1204.3L208.5 1202.4L208.9 1200.4L209.4 1198.5L209.9 1196.6L210.3 1194.7L210.8 1192.8L211.2 1190.9L211.7 1189L212.1 1187.1L212.5 1185.2L212.9 1183.2L213.4 1181.3L213.8 1179.4L214.2 1177.5L214.6 1175.6L215 1173.7L215.4 1171.8L215.7 1169.9L216.1 1168L216.5 1166L216.9 1164.1L217.2 1162.2L217.6 1160.3L218 1158.4L218.3 1156.5L218.6 1154.6L219 1152.7L219.3 1150.8L219.7 1148.8L220 1146.9L220.3 1145L220.6 1143.1L220.9 1141.2L221.2 1139.3L221.5 1137.4L221.8 1135.5L222.1 1133.6L222.4 1131.6L222.7 1129.7L223 1127.8L223.3 1125.9L223.5 1124L223.8 1122.1L224.1 1120.2L224.3 1118.3L224.6 1116.4L224.9 1114.4L225.1 1112.5L225.3 1110.6L225.6 1108.7L225.8 1106.8L226.1 1104.9L226.3 1103L226.5 1101.1L226.7 1099.2L226.9 1097.2L227.2 1095.3L227.4 1093.4L227.6 1091.5L227.8 1089.6L228 1087.7L228.2 1085.8L228.4 1083.9L228.6 1082L228.7 1080L228.9 1078.1L229.1 1076.2L229.3 1074.3L229.4 1072.4L229.6 1070.5L229.8 1068.6" stroke="#00ff00" stroke-dasharray="31 32.5"/>
<path d="M177.5 1296L178.7 1294L179.8 1292L181 1290.1L182.1 1288.1L183.2 1286.1L184.4 1284.1L185.5 1282.2L186.6 1280.2L187.7 1278.2L188.8 1276.2L189.9 1274.2L190.9 1272.3L192 1270.3L193.1 1268.3L194.1 1266.3L195.2 1264.3L196.2 1262.4L197.3 1260.4L198.3 1258.4L199.3 1256.4L200.3 1254.5L201.3 1252.5L202.3 1250.5L203.3 1248.5L204.3 1246.5L205.3 1244.6L206.2 1242.6L207.2 1240.6L208.1 1238.6L209.1 1236.6L210 1234.7L210.9 1232.7L211.8 1230.7L212.7 1228.7L213.6 1226.8L214.5 1224.8L215.4 1222.8L216.3 1220.8L217.1 1218.8L218 1216.9L218.9 1214.9L219.7 1212.9L220.5 1210.9L221.3 1208.9L222.2 1207L223 1205L223.8 1203L224.5 1201L225.3 1199L226.1 1197.1L226.8 1195.1L227.6 1193.1L228.3 1191.1L229.1 1189.2L229.8 1187.2L230.5 1185.2L231.2 1183.2L231.9 1181.2L232.6 1179.3L233.3 1177.3L233.9 1175.3L234.6 1173.3L235.2 1171.3L235.9 1169.4L236.5 1167.4L237.1 1165.4L237.7 1163.4L238.3 1161.5L238.9 1159.5L239.5 1157.5L240.1 1155.5L240.6 1153.5L241.2 1151.6L241.7 1149.6L242.2 1147.6L242.8 1145.6L243.3 1143.7L243.8 1141.7L244.3 1139.7L244.8 1137.7L245.2 1135.7L245.7 1133.8L246.1 1131.8L246.6 1129.8L247 1127.8L247.4 1125.8L247.8 1123.9L248.2 1121.9L248.6 1119.9L249 1117.9L249.3 1116L249.7 1114L250 1112L250.4 1110L250.7 1108L251 1106.1L251.3 1104.1L251.6 1102.1L251.9 1100.1L252.1 1098.1L252.4 1096.2L252.6 1094.2L252.9 1092.2L253.1 1090.2L253.3 1088.2L253.5 1086.3L253.7 1084.3L253.9 1082.3L254 1080.3L254.2 1078.4L254.3 1076.4L254.5 1074.4L254.6 1072.4L254.7 1070.4L254.8 1068.5L254.9 1066.5L255 1064.5L255 1062.5L255.1 1060.5" stroke="#0000ff" stroke-dasharray="7 9.4"/>
<path d="M177.5 1296L179.5 1294.1L181.4 1292.1L183.3 1290.2L185.2 1288.3L187.1 1286.3L189 1284.4L190.8 1282.4L192.6 1280.5L194.5 1278.6L196.2 1276.6L198 1274.7L199.8 1272.8L201.5 1270.8L203.2 1268.9L204.9 1266.9L206.6 1265L208.3 1263.1L209.9 1261.1L211.6 1259.2L213.2 1257.3L214.8 1255.3L216.4 1253.4L217.9 1251.5L219.5 1249.5L221 1247.6L222.5 1245.6L224 1243.7L225.5 1241.8L227 1239.8L228.4 1237.9L229.8 1236L231.3 1234L232.7 1232.1L234 1230.2L235.4 1228.2L236.7 1226.3L238.1 1224.3L239.4 1222.4L240.7 1220.5L242 1218.5L243.2 1216.6L244.5 1214.7L245.7 1212.7L246.9 1210.8L248.1 1208.8L249.3 1206.9L250.5 1205L251.7 1203L252.8 1201.1L253.9 1199.2L255 1197.2L256.1 1195.3L257.2 1193.4L258.3 1191.4L259.3 1189.5L260.4 1187.5L261.4 1185.6L262.4 1183.7L263.4 1181.7L264.4 1179.8L265.3 1177.9L266.3 1175.9L267.2 1174L268.1 1172.1L269.1 1170.1L269.9 1168.2L270.8 1166.2L271.7 1164.3L272.5 1162.4L273.4 1160.4L274.2 1158.5L275 1156.6L275.8 1154.6L276.6 1152.7L277.3 1150.7L278.1 1148.8L278.8 1146.9L279.6 1144.9L280.3 1143L281 1141.1L281.7 1139.1L282.3 1137.2L283 1135.3L283.7 1133.3L284.3 1131.4L284.9 1129.4L285.5 1127.5L286.1 1125.6L286.7 1123.6L287.3 1121.7L287.8 1119.8L288.4 1117.8L288.9 1115.9L289.4 1114L290 1112L290.5 1110.1L290.9 1108.1L291.4 1106.2L291.9 1104.3L292.3 1102.3L292.8 1100.4L293.2 1098.5L293.6 1096.5L294 1094.6L294.4 1092.6L294.8 1090.7L295.2 1088.8L295.5 1086.8L295.9 1084.9L296.2 1083L296.5 1081L296.8 1079.1L297.1 1077.2L297.4 1075.2L297.7 1073.3L298 1071.3L298.3 1069.4L298.5 1067.5L298.7 1065.5" stroke="#000000" stroke-dasharray="31 8.25 16 8.25"/>
<path d="M177.5 1296L180.3 1294.2L183 1292.4L185.7 1290.6L188.4 1288.7L191.1 1286.9L193.7 1285.1L196.4 1283.3L199 1281.5L201.6 1279.7L204.2 1277.9L206.7 1276.1L209.3 1274.2L211.8 1272.4L214.3 1270.6L216.8 1268.8L219.2 1267L221.7 1265.2L224.1 1263.4L226.5 1261.5L228.9 1259.7L231.3 1257.9L233.6 1256.1L236 1254.3L238.3 1252.5L240.6 1250.7L242.8 1248.9L245.1 1247L247.3 1245.2L249.5 1243.4L251.7 1241.6L253.9 1239.8L256.1 1238L258.2 1236.2L260.3 1234.3L262.4 1232.5L264.5 1230.7L266.5 1228.9L268.6 1227.1L270.6 1225.3L272.6 1223.5L274.5 1221.7L276.5 1219.8L278.4 1218L280.3 1216.2L282.2 1214.4L284.1 1212.6L285.9 1210.8L287.8 1209L289.6 1207.1L291.3 1205.3L293.1 1203.5L294.8 1201.7L296.6 1199.9L298.3 1198.1L299.9 1196.3L301.6 1194.5L303.2 1192.6L304.8 1190.8L306.4 1189L308 1187.2L309.5 1185.4L311.1 1183.6L312.6 1181.8L314.1 1179.9L315.5 1178.1L316.9 1176.3L318.4 1174.5L319.8 1172.7L321.1 1170.9L322.5 1169.1L323.8 1167.3L325.1 1165.4L326.4 1163.6L327.6 1161.8L328.9 1160L330.1 1158.2L331.3 1156.4L332.5 1154.6L333.6 1152.7L334.7 1150.9L335.8 1149.1L336.9 1147.3L338 1145.5L339 1143.7L340 1141.9L341 1140.1L341.9 1138.2L342.9 1136.4L343.8 1134.6L344.7 1132.8L345.6 1131L346.4 1129.2L347.2 1127.4L348 1125.5L348.8 1123.7L349.5 1121.9L350.3 1120.1L351 1118.3L351.6 1116.5L352.3 1114.7L352.9 1112.9L353.5 1111L354.1 1109.2L354.7 1107.4L355.2 1105.6L355.7 1103.8L356.2 1102L356.7 1100.2L357.1 1098.4L357.5 1096.5L357.9 1094.7L358.3 1092.9L358.6 1091.1L358.9 1089.3L359.2 1087.5L359.4 1085.7L359.7 1083.8L359.9 1082L360.1 1080.2" stroke="#00ffff"/>
<path d="M177.5 1296L522.2 1129.8" stroke="#ff00ff" stroke-dasharray="31 32.5"/>
<path d="M177.5 1296L179.5 1295.5L181.5 1295L183.5 1294.5L185.5 1293.9L187.5 1293.4L189.5 1292.9L191.5 1292.4L193.5 1291.8L195.4 1291.3L197.4 1290.8L199.4 1290.2L201.4 1289.7L203.4 1289.2L205.4 1288.6L207.4 1288.1L209.4 1287.5L211.4 1287L213.4 1286.5L215.4 1285.9L217.4 1285.4L219.4 1284.8L221.4 1284.3L223.4 1283.8L225.4 1283.2L227.3 1282.7L229.3 1282.1L231.3 1281.6L233.3 1281.1L235.3 1280.5L237.3 1280L239.3 1279.4L241.3 1278.9L243.3 1278.4L245.3 1277.8L247.3 1277.3L249.3 1276.8L251.3 1276.2L253.3 1275.7L255.3 1275.2L257.3 1274.7L259.2 1274.1L261.2 1273.6L263.2 1273.1L265.2 1272.6L267.2 1272.1L269.2 1271.6L271.2 1271.1L273.2 1270.6L275.2 1270.1L277.2 1269.6L279.2 1269.1L281.2 1268.6L283.2 1268.1L285.2 1267.6L287.2 1267.1L289.2 1266.6L291.1 1266.2L293.1 1265.7L295.1 1265.2L297.1 1264.8L299.1 1264.3L301.1 1263.9L303.1 1263.4L305.1 1263L307.1 1262.5L309.1 1262.1L311.1 1261.7L313.1 1261.3L315.1 1260.8L317.1 1260.4L319.1 1260L321.1 1259.6L323.1 1259.2L325 1258.8L327 1258.5L329 1258.1L331 1257.7L333 1257.4L335 1257L337 1256.6L339 1256.3L341 1256L343 1255.6L345 1255.3L347 1255L349 1254.7L351 1254.4L353 1254.1L355 1253.8L356.9 1253.5L358.9 1253.3L360.9 1253L362.9 1252.8L364.9 1252.5L366.9 1252.3L368.9 1252.1L370.9 1251.8L372.9 1251.6L374.9 1251.4L376.9 1251.2L378.9 1251.1L380.9 1250.9L382.9 1250.7L384.9 1250.6L386.9 1250.4L388.8 1250.3L390.8 1250.2L392.8 1250L394.8 1249.9L396.8 1249.8L398.8 1249.8L400.8 1249.7L402.8 1249.6L404.8 1249.6L406.8 1249.5L408.8 1249.5L410.8 1249.5L412.8 1249.5L414.8 1249.5" stroke="#ff0000" stroke-dasharray="7 9.4"/>
<path d="M177.5 1296L179 1295.8L180.5 1295.5L181.9 1295.3L183.4 1295.1L184.9 1294.8L186.4 1294.6L187.9 1294.3L189.4 1294.1L190.8 1293.9L192.3 1293.6L193.8 1293.4L195.3 1293.2L196.8 1292.9L198.2 1292.7L199.7 1292.4L201.2 1292.2L202.7 1292L204.2 1291.7L205.7 1291.5L207.1 1291.3L208.6 1291L210.1 1290.8L211.6 1290.6L213.1 1290.3L214.6 1290.1L216 1289.9L217.5 1289.6L219 1289.4L220.5 1289.2L222 1288.9L223.4 1288.7L224.9 1288.5L226.4 1288.2L227.9 1288L229.4 1287.8L230.9 1287.6L232.3 1287.4L233.8 1287.1L235.3 1286.9L236.8 1286.7L238.3 1286.5L239.7 1286.3L241.2 1286L242.7 1285.8L244.2 1285.6L245.7 1285.4L247.2 1285.2L248.6 1285L250.1 1284.8L251.6 1284.6L253.1 1284.4L254.6 1284.2L256.1 1284L257.5 1283.8L259 1283.6L260.5 1283.4L262 1283.2L263.5 1283L264.9 1282.8L266.4 1282.6L267.9 1282.4L269.4 1282.3L270.9 1282.1L272.4 1281.9L273.8 1281.7L275.3 1281.5L276.8 1281.4L278.3 1281.2L279.8 1281L281.2 1280.9L282.7 1280.7L284.2 1280.5L285.7 1280.4L287.2 1280.2L288.7 1280.1L290.1 1279.9L291.6 1279.8L293.1 1279.6L294.6 1279.5L296.1 1279.4L297.6 1279.2L299 1279.1L300.5 1279L302 1278.8L303.5 1278.7L305 1278.6L306.4 1278.5L307.9 1278.4L309.4 1278.3L310.9 1278.1L312.4 1278L313.9 1277.9L315.3 1277.8L316.8 1277.8L318.3 1277.7L319.8 1277.6L321.3 1277.5L322.7 1277.4L324.2 1277.3L325.7 1277.3L327.2 1277.2L328.7 1277.1L330.2 1277.1L331.6 1277L333.1 1276.9L334.6 1276.9L336.1 1276.9L337.6 1276.8L339.1 1276.8L340.5 1276.7L342 1276.7L343.5 1276.7L345 1276.7L346.5 1276.6L347.9 1276.6L349.4 1276.6L350.9 1276.6L352.4 1276.6L353.9 1276.6" stroke="#00ff00" stroke-dasharray="31 8.25 16 8.25"/>
<path d="M177.5 1296L180.7 1295.7L183.8 1295.5L187 1295.2L190.1 1295L193.3 1294.7L196.4 1294.5L199.6 1294.3L202.7 1294L205.9 1293.8L209 1293.6L212.2 1293.4L215.3 1293.1L218.5 1292.9L221.6 1292.7L224.8 1292.5L227.9 1292.3L231.1 1292.2L234.2 1292L237.4 1291.8L240.5 1291.6L243.7 1291.5L246.9 1291.3L250 1291.1L253.2 1291L256.3 1290.8L259.5 1290.7L262.6 1290.6L265.8 1290.4L268.9 1290.3L272.1 1290.2L275.2 1290.1L278.4 1290L281.5 1289.9L284.7 1289.8L287.8 1289.7L291 1289.6L294.1 1289.5L297.3 1289.4L300.4 1289.3" stroke="#0000ff"/>
<path d="M177.5 1296L179.6 1295.9L181.7 1295.8L183.9 1295.8L186 1295.7L188.1 1295.6L190.2 1295.5L192.3 1295.5L194.5 1295.4L196.6 1295.3L198.7 1295.3L200.8 1295.2L203 1295.1L205.1 1295.1L207.2 1295L209.3 1295L211.4 1294.9L213.6 1294.9L215.7 1294.8L217.8 1294.7L219.9 1294.7L222 1294.6L224.2 1294.6L226.3 1294.6L228.4 1294.5L230.5 1294.5L232.7 1294.4L234.8 1294.4L236.9 1294.4L239 1294.3L241.1 1294.3L243.3 1294.3L245.4 1294.2L247.5 1294.2L249.6 1294.2L251.7 1294.1L253.9 1294.1L256 1294.1L258.1 1294.1L260.2 1294.1" stroke="#000000" stroke-dasharray="31 32.5"/>
<path d="M177.5 1296L178.9 1296L180.2 1296L181.6 1295.9L183 1295.9L184.3 1295.9L185.7 1295.9L187.1 1295.9L188.5 1295.9L189.8 1295.8L191.2 1295.8L192.6 1295.8L193.9 1295.8L195.3 1295.8L196.7 1295.8L198 1295.7L199.4 1295.7L200.8 1295.7L202.2 1295.7L203.5 1295.7L204.9 1295.7L206.3 1295.7L207.6 1295.6L209 1295.6L210.4 1295.6L211.7 1295.6L213.1 1295.6L214.5 1295.6L215.9 1295.6L217.2 1295.6L218.6 1295.5L220 1295.5L221.3 1295.5L222.7 1295.5L224.1 1295.5L225.4 1295.5L226.8 1295.5L228.2 1295.5L229.6 1295.5L230.9 1295.4" stroke="#00ffff" stroke-dasharray="7 9.4"/>
</g>
<path d="M201.2 1065.1l16.4 16.4M201.2 1081.5l16.4 -16.4M221.6 1060.4l16.4 16.4M221.6 1076.8l16.4 -16.4M246.9 1052.3l16.4 16.4M246.9 1068.8l16.4 -16.4M290.5 1057.3l16.4 16.4M290.5 1073.7l16.4 -16.4M352 1071.7l16.4 16.4M352 1088.1l16.4 -16.4M514 1121.6l16.4 16.4M514 1138l16.4 -16.4M406.6 1241.3l16.4 16.4M406.6 1257.7l16.4 -16.4M345.7 1268.4l16.4 16.4M345.7 1284.8l16.4 -16.4M292.2 1281.2l16.4 16.4M292.2 1297.6l16.4 -16.4M252 1285.9l16.4 16.4M252 1302.3l16.4 -16.4M222.7 1287.2l16.4 16.4M222.7 1303.6l16.4 -16.4" stroke="#ff0000" stroke-width="5.5" fill="none"/>
<!-- panel e -->
<g font-size="53" fill="#474747" text-anchor="middle">
<text x="811" y="1364.4">0</text>
<text x="925.9" y="1364.4">20</text>
<text x="1040.8" y="1364.4">40</text>
<text x="1155.7" y="1364.4">60</text>
<text x="1270.6" y="1364.4">80</text>
</g>
<g font-size="53" fill="#474747" text-anchor="end">
<text x="794.5" y="1318.4">0</text>
<text x="794.5" y="1206.5">40</text>
<text x="794.5" y="1094.6">80</text>
<text x="794.5" y="982.7">120</text>
<text x="794.5" y="870.8">160</text>
</g>
<clipPath id="clip-e"><rect x="809" y="796.2" width="518.2" height="506.2"/></clipPath>
<rect x="810" y="797.2" width="515.7" height="500.2" fill="none" stroke="#555555" stroke-width="3.0"/>
<path d="M924.4 1297.4v-12.5M924.4 797.2v12.5M1039.3 1297.4v-12.5M1039.3 797.2v12.5M1154.2 1297.4v-12.5M1154.2 797.2v12.5M1269.1 1297.4v-12.5M1269.1 797.2v12.5M810 1186.2h15M1325.7 1186.2h-15M810 1075.1h15M1325.7 1075.1h-15M810 963.9h15M1325.7 963.9h-15M810 852.8h15M1325.7 852.8h-15" stroke="#555555" stroke-width="3.0" fill="none"/>
<g clip-path="url(#clip-e)" fill="none" stroke-width="7.5">
<path d="M809.5 1296L809.7 1294.8L809.9 1293.7L810.1 1292.5L810.3 1291.3L810.5 1290.2L810.7 1289L811 1287.9L811.2 1286.7L811.4 1285.5L811.6 1284.4L811.8 1283.2L812 1282L812.2 1280.9L812.4 1279.7L812.6 1278.5L812.8 1277.4L813 1276.2L813.3 1275.1L813.5 1273.9L813.7 1272.7L813.9 1271.6L814.1 1270.4L814.3 1269.2L814.5 1268.1L814.7 1266.9L814.9 1265.7L815.1 1264.6L815.3 1263.4L815.5 1262.2L815.7 1261.1L815.9 1259.9L816.2 1258.8L816.4 1257.6L816.6 1256.4L816.8 1255.3L817 1254.1L817.2 1252.9L817.4 1251.8L817.5 1250.6L817.7 1249.4L817.9 1248.3L818.1 1247.1L818.3 1246L818.5 1244.8L818.7 1243.6L818.9 1242.5L819.1 1241.3L819.3 1240.1L819.4 1239L819.6 1237.8L819.8 1236.6L820 1235.5L820.2 1234.3L820.3 1233.2L820.5 1232L820.7 1230.8L820.8 1229.7L821 1228.5L821.2 1227.3L821.3 1226.2L821.5 1225L821.7 1223.8L821.8 1222.7L822 1221.5L822.1 1220.3L822.3 1219.2L822.4 1218L822.6 1216.9L822.7 1215.7L822.8 1214.5L823 1213.4L823.1 1212.2L823.2 1211L823.4 1209.9L823.5 1208.7L823.6 1207.5L823.7 1206.4L823.8 1205.2L824 1204.1L824.1 1202.9L824.2 1201.7L824.3 1200.6L824.4 1199.4L824.5 1198.2L824.6 1197.1L824.7 1195.9L824.8 1194.7L824.9 1193.6L824.9 1192.4L825 1191.3L825.1 1190.1L825.2 1188.9L825.2 1187.8L825.3 1186.6L825.4 1185.4L825.4 1184.3L825.5 1183.1L825.5 1181.9L825.6 1180.8L825.6 1179.6L825.6 1178.4L825.7 1177.3L825.7 1176.1L825.7 1175L825.8 1173.8L825.8 1172.6L825.8 1171.5L825.8 1170.3L825.8 1169.1L825.8 1168L825.8 1166.8L825.8 1165.6L825.8 1164.5L825.7 1163.3L825.7 1162.2L825.7 1161L825.7 1159.8L825.6 1158.7L825.6 1157.5" stroke="#ff0000"/>
<path d="M809.5 1296L810 1294.8L810.5 1293.7L811 1292.5L811.5 1291.3L812 1290.1L812.5 1289L813 1287.8L813.4 1286.6L813.9 1285.5L814.3 1284.3L814.8 1283.1L815.2 1281.9L815.7 1280.8L816.1 1279.6L816.5 1278.4L816.9 1277.3L817.3 1276.1L817.7 1274.9L818.1 1273.8L818.5 1272.6L818.9 1271.4L819.3 1270.2L819.6 1269.1L820 1267.9L820.3 1266.7L820.7 1265.6L821 1264.4L821.4 1263.2L821.7 1262L822 1260.9L822.3 1259.7L822.7 1258.5L823 1257.4L823.3 1256.2L823.6 1255L823.9 1253.8L824.2 1252.7L824.4 1251.5L824.7 1250.3L825 1249.2L825.3 1248L825.5 1246.8L825.8 1245.7L826 1244.5L826.3 1243.3L826.5 1242.1L826.8 1241L827 1239.8L827.2 1238.6L827.5 1237.5L827.7 1236.3L827.9 1235.1L828.1 1233.9L828.3 1232.8L828.5 1231.6L828.7 1230.4L828.9 1229.3L829.1 1228.1L829.3 1226.9L829.5 1225.7L829.7 1224.6L829.9 1223.4L830 1222.2L830.2 1221.1L830.4 1219.9L830.6 1218.7L830.7 1217.6L830.9 1216.4L831 1215.2L831.2 1214L831.3 1212.9L831.5 1211.7L831.6 1210.5L831.8 1209.4L831.9 1208.2L832.1 1207L832.2 1205.8L832.3 1204.7L832.5 1203.5L832.6 1202.3L832.7 1201.2L832.8 1200L833 1198.8L833.1 1197.6L833.2 1196.5L833.3 1195.3L833.4 1194.1L833.5 1193L833.6 1191.8L833.8 1190.6L833.9 1189.5L834 1188.3L834.1 1187.1L834.2 1185.9L834.3 1184.8L834.4 1183.6L834.5 1182.4L834.6 1181.3L834.7 1180.1L834.8 1178.9L834.9 1177.7L835 1176.6L835.1 1175.4L835.1 1174.2L835.2 1173.1L835.3 1171.9L835.4 1170.7L835.5 1169.5L835.6 1168.4L835.7 1167.2L835.8 1166L835.9 1164.9L836 1163.7L836.1 1162.5L836.1 1161.4L836.2 1160.2L836.3 1159L836.4 1157.8L836.5 1156.7" stroke="#00ff00" stroke-dasharray="31 32.5"/>
<path d="M809.5 1296L810.2 1294.9L810.9 1293.7L811.6 1292.6L812.2 1291.4L812.9 1290.3L813.5 1289.1L814.2 1288L814.8 1286.8L815.5 1285.7L816.1 1284.5L816.7 1283.4L817.3 1282.2L817.9 1281.1L818.6 1279.9L819.1 1278.8L819.7 1277.6L820.3 1276.5L820.9 1275.3L821.5 1274.2L822 1273L822.6 1271.9L823.1 1270.8L823.7 1269.6L824.2 1268.5L824.8 1267.3L825.3 1266.2L825.8 1265L826.3 1263.9L826.8 1262.7L827.3 1261.6L827.8 1260.4L828.3 1259.3L828.8 1258.1L829.3 1257L829.7 1255.8L830.2 1254.7L830.7 1253.5L831.1 1252.4L831.5 1251.2L832 1250.1L832.4 1248.9L832.8 1247.8L833.3 1246.7L833.7 1245.5L834.1 1244.4L834.5 1243.2L834.9 1242.1L835.3 1240.9L835.7 1239.8L836.1 1238.6L836.4 1237.5L836.8 1236.3L837.2 1235.2L837.5 1234L837.9 1232.9L838.2 1231.7L838.6 1230.6L838.9 1229.4L839.3 1228.3L839.6 1227.1L839.9 1226L840.2 1224.9L840.5 1223.7L840.8 1222.6L841.1 1221.4L841.4 1220.3L841.7 1219.1L842 1218L842.3 1216.8L842.6 1215.7L842.8 1214.5L843.1 1213.4L843.4 1212.2L843.6 1211.1L843.9 1209.9L844.1 1208.8L844.3 1207.6L844.6 1206.5L844.8 1205.3L845 1204.2L845.2 1203L845.5 1201.9L845.7 1200.8L845.9 1199.6L846.1 1198.5L846.3 1197.3L846.5 1196.2L846.7 1195L846.8 1193.9L847 1192.7L847.2 1191.6L847.4 1190.4L847.5 1189.3L847.7 1188.1L847.8 1187L848 1185.8L848.1 1184.7L848.3 1183.5L848.4 1182.4L848.5 1181.2L848.7 1180.1L848.8 1178.9L848.9 1177.8L849 1176.7L849.1 1175.5L849.2 1174.4L849.4 1173.2L849.5 1172.1L849.5 1170.9L849.6 1169.8L849.7 1168.6L849.8 1167.5L849.9 1166.3L850 1165.2L850 1164L850.1 1162.9L850.2 1161.7L850.2 1160.6L850.3 1159.4" stroke="#0000ff" stroke-dasharray="7 9.4"/>
<path d="M809.5 1296L810.4 1295L811.3 1294L812.3 1292.9L813.2 1291.9L814.1 1290.9L815 1289.9L815.8 1288.8L816.7 1287.8L817.6 1286.8L818.5 1285.8L819.3 1284.7L820.2 1283.7L821 1282.7L821.9 1281.7L822.7 1280.6L823.6 1279.6L824.4 1278.6L825.2 1277.6L826 1276.5L826.8 1275.5L827.6 1274.5L828.4 1273.5L829.2 1272.4L830 1271.4L830.8 1270.4L831.5 1269.4L832.3 1268.3L833 1267.3L833.8 1266.3L834.5 1265.3L835.3 1264.2L836 1263.2L836.7 1262.2L837.4 1261.2L838.1 1260.2L838.8 1259.1L839.5 1258.1L840.2 1257.1L840.9 1256.1L841.6 1255L842.2 1254L842.9 1253L843.5 1252L844.2 1250.9L844.8 1249.9L845.4 1248.9L846.1 1247.9L846.7 1246.8L847.3 1245.8L847.9 1244.8L848.5 1243.8L849 1242.7L849.6 1241.7L850.2 1240.7L850.8 1239.7L851.3 1238.6L851.9 1237.6L852.4 1236.6L852.9 1235.6L853.5 1234.5L854 1233.5L854.5 1232.5L855 1231.5L855.5 1230.5L856 1229.4L856.4 1228.4L856.9 1227.4L857.4 1226.4L857.8 1225.3L858.3 1224.3L858.7 1223.3L859.1 1222.3L859.6 1221.2L860 1220.2L860.4 1219.2L860.8 1218.2L861.2 1217.1L861.5 1216.1L861.9 1215.1L862.3 1214.1L862.6 1213L863 1212L863.3 1211L863.7 1210L864 1208.9L864.3 1207.9L864.6 1206.9L864.9 1205.9L865.2 1204.8L865.5 1203.8L865.8 1202.8L866 1201.8L866.3 1200.7L866.5 1199.7L866.8 1198.7L867 1197.7L867.2 1196.7L867.4 1195.6L867.6 1194.6L867.8 1193.6L868 1192.6L868.2 1191.5L868.4 1190.5L868.5 1189.5L868.7 1188.5L868.8 1187.4L868.9 1186.4L869.1 1185.4L869.2 1184.4L869.3 1183.3L869.4 1182.3L869.5 1181.3L869.5 1180.3L869.6 1179.2L869.7 1178.2L869.7 1177.2L869.8 1176.2L869.8 1175.1L869.8 1174.1" stroke="#000000" stroke-dasharray="31 8.25 16 8.25"/>
<path d="M809.5 1296L810.9 1295.1L812.4 1294.1L813.8 1293.2L815.2 1292.3L816.6 1291.3L818 1290.4L819.4 1289.4L820.8 1288.5L822.1 1287.6L823.5 1286.6L824.8 1285.7L826.1 1284.8L827.5 1283.8L828.8 1282.9L830.1 1282L831.4 1281L832.6 1280.1L833.9 1279.2L835.2 1278.2L836.4 1277.3L837.6 1276.3L838.9 1275.4L840.1 1274.5L841.3 1273.5L842.5 1272.6L843.6 1271.7L844.8 1270.7L846 1269.8L847.1 1268.9L848.3 1267.9L849.4 1267L850.5 1266.1L851.6 1265.1L852.7 1264.2L853.8 1263.2L854.9 1262.3L855.9 1261.4L857 1260.4L858 1259.5L859 1258.6L860 1257.6L861 1256.7L862 1255.8L863 1254.8L864 1253.9L864.9 1253L865.9 1252L866.8 1251.1L867.7 1250.1L868.7 1249.2L869.6 1248.3L870.4 1247.3L871.3 1246.4L872.2 1245.5L873 1244.5L873.9 1243.6L874.7 1242.7L875.5 1241.7L876.3 1240.8L877.1 1239.9L877.9 1238.9L878.7 1238L879.4 1237L880.2 1236.1L880.9 1235.2L881.6 1234.2L882.3 1233.3L883 1232.4L883.7 1231.4L884.4 1230.5L885 1229.6L885.7 1228.6L886.3 1227.7L886.9 1226.8L887.5 1225.8L888.1 1224.9L888.7 1223.9L889.3 1223L889.8 1222.1L890.4 1221.1L890.9 1220.2L891.4 1219.3L891.9 1218.3L892.4 1217.4L892.9 1216.5L893.4 1215.5L893.8 1214.6L894.3 1213.7L894.7 1212.7L895.1 1211.8L895.5 1210.8L895.9 1209.9L896.3 1209L896.7 1208L897 1207.1L897.4 1206.2L897.7 1205.2L898 1204.3L898.3 1203.4L898.6 1202.4L898.9 1201.5L899.1 1200.6L899.4 1199.6L899.6 1198.7L899.8 1197.7L900 1196.8L900.2 1195.9L900.4 1194.9L900.5 1194L900.7 1193.1L900.8 1192.1L901 1191.2L901.1 1190.3L901.2 1189.3L901.2 1188.4L901.3 1187.5L901.4 1186.5L901.4 1185.6L901.4 1184.6" stroke="#00ffff"/>
<path d="M809.5 1296L981.9 1212.9" stroke="#ff00ff" stroke-dasharray="31 32.5"/>
<path d="M809.5 1296L810.5 1295.7L811.5 1295.4L812.5 1295L813.4 1294.7L814.4 1294.4L815.4 1294.1L816.4 1293.8L817.4 1293.5L818.4 1293.2L819.3 1292.9L820.3 1292.6L821.3 1292.3L822.3 1292L823.3 1291.7L824.3 1291.4L825.3 1291.1L826.2 1290.8L827.2 1290.5L828.2 1290.2L829.2 1289.9L830.2 1289.6L831.2 1289.3L832.2 1289.1L833.1 1288.8L834.1 1288.5L835.1 1288.2L836.1 1287.9L837.1 1287.7L838.1 1287.4L839 1287.1L840 1286.9L841 1286.6L842 1286.4L843 1286.1L844 1285.8L845 1285.6L845.9 1285.3L846.9 1285.1L847.9 1284.8L848.9 1284.6L849.9 1284.4L850.9 1284.1L851.8 1283.9L852.8 1283.6L853.8 1283.4L854.8 1283.2L855.8 1283L856.8 1282.7L857.8 1282.5L858.7 1282.3L859.7 1282.1L860.7 1281.9L861.7 1281.6L862.7 1281.4L863.7 1281.2L864.7 1281L865.6 1280.8L866.6 1280.6L867.6 1280.4L868.6 1280.2L869.6 1280L870.6 1279.9L871.5 1279.7L872.5 1279.5L873.5 1279.3L874.5 1279.1L875.5 1279L876.5 1278.8L877.5 1278.6L878.4 1278.4L879.4 1278.3L880.4 1278.1L881.4 1278L882.4 1277.8L883.4 1277.7L884.3 1277.5L885.3 1277.4L886.3 1277.2L887.3 1277.1L888.3 1276.9L889.3 1276.8L890.3 1276.7L891.2 1276.5L892.2 1276.4L893.2 1276.3L894.2 1276.2L895.2 1276.1L896.2 1276L897.2 1275.8L898.1 1275.7L899.1 1275.6L900.1 1275.5L901.1 1275.4L902.1 1275.3L903.1 1275.3L904 1275.2L905 1275.1L906 1275L907 1274.9L908 1274.9L909 1274.8L910 1274.7L910.9 1274.7L911.9 1274.6L912.9 1274.5L913.9 1274.5L914.9 1274.4L915.9 1274.4L916.8 1274.3L917.8 1274.3L918.8 1274.3L919.8 1274.2L920.8 1274.2L921.8 1274.2L922.8 1274.2L923.7 1274.1L924.7 1274.1L925.7 1274.1L926.7 1274.1" stroke="#ff0000" stroke-dasharray="7 9.4"/>
<path d="M809.5 1296L811.8 1295.5L814.1 1295L816.4 1294.6L818.8 1294.1L821.1 1293.7L823.4 1293.2L825.7 1292.8L828 1292.4L830.3 1292L832.6 1291.6L834.9 1291.2L837.3 1290.9L839.6 1290.5L841.9 1290.2L844.2 1289.8L846.5 1289.5L848.8 1289.2L851.1 1288.9L853.4 1288.6L855.8 1288.3L858.1 1288.1L860.4 1287.8L862.7 1287.6L865 1287.3L867.3 1287.1L869.6 1286.9L871.9 1286.7L874.3 1286.5L876.6 1286.3L878.9 1286.2L881.2 1286L883.5 1285.9L885.8 1285.7L888.1 1285.6L890.4 1285.5L892.8 1285.4L895.1 1285.3L897.4 1285.3L899.7 1285.2" stroke="#00ff00" stroke-dasharray="31 8.25 16 8.25"/>
<path d="M809.5 1296L811.1 1295.8L812.7 1295.7L814.4 1295.5L816 1295.3L817.6 1295.2L819.2 1295L820.8 1294.9L822.5 1294.8L824.1 1294.6L825.7 1294.5L827.3 1294.3L828.9 1294.2L830.6 1294.1L832.2 1293.9L833.8 1293.8L835.4 1293.7L837 1293.6L838.7 1293.5L840.3 1293.4L841.9 1293.3L843.5 1293.2L845.1 1293.1L846.8 1293L848.4 1292.9L850 1292.8L851.6 1292.7L853.3 1292.6L854.9 1292.5L856.5 1292.4L858.1 1292.4L859.7 1292.3L861.4 1292.2L863 1292.2L864.6 1292.1L866.2 1292L867.8 1292L869.5 1291.9L871.1 1291.9L872.7 1291.8" stroke="#0000ff"/>
<path d="M809.5 1296L810.6 1295.9L811.7 1295.9L812.8 1295.8L813.9 1295.8L815 1295.7L816.1 1295.6L817.2 1295.6L818.3 1295.5L819.4 1295.5L820.5 1295.4L821.7 1295.4L822.8 1295.3L823.9 1295.3L825 1295.2L826.1 1295.2L827.2 1295.2L828.3 1295.1L829.4 1295.1L830.5 1295L831.6 1295L832.7 1295L833.8 1294.9L834.9 1294.9L836 1294.9L837.1 1294.8L838.2 1294.8L839.3 1294.8L840.4 1294.8L841.5 1294.8L842.6 1294.7L843.7 1294.7L844.9 1294.7L846 1294.7L847.1 1294.7L848.2 1294.7L849.3 1294.6L850.4 1294.6L851.5 1294.6L852.6 1294.6" stroke="#000000" stroke-dasharray="31 32.5"/>
<path d="M809.5 1296L810.2 1296L811 1296L811.7 1295.9L812.4 1295.9L813.2 1295.9L813.9 1295.9L814.7 1295.9L815.4 1295.8L816.1 1295.8L816.9 1295.8L817.6 1295.8L818.3 1295.8L819.1 1295.8L819.8 1295.7L820.5 1295.7L821.3 1295.7L822 1295.7L822.8 1295.7L823.5 1295.7L824.2 1295.7L825 1295.6L825.7 1295.6L826.4 1295.6L827.2 1295.6L827.9 1295.6L828.6 1295.6L829.4 1295.6L830.1 1295.6L830.9 1295.5L831.6 1295.5L832.3 1295.5L833.1 1295.5L833.8 1295.5L834.5 1295.5L835.3 1295.5L836 1295.5L836.8 1295.5L837.5 1295.5L838.2 1295.4" stroke="#00ffff" stroke-dasharray="7 9.4"/>
</g>
<path d="M817.4 1149.3l16.4 16.4M817.4 1165.7l16.4 -16.4M828.3 1148.5l16.4 16.4M828.3 1164.9l16.4 -16.4M842.1 1151.2l16.4 16.4M842.1 1167.6l16.4 -16.4M861.6 1165.9l16.4 16.4M861.6 1182.3l16.4 -16.4M893.2 1176.4l16.4 16.4M893.2 1192.8l16.4 -16.4M973.6 1204.7l16.4 16.4M973.6 1221.1l16.4 -16.4M918.5 1265.9l16.4 16.4M918.5 1282.3l16.4 -16.4M891.5 1277l16.4 16.4M891.5 1293.4l16.4 -16.4M864.5 1283.6l16.4 16.4M864.5 1300l16.4 -16.4M844.4 1286.4l16.4 16.4M844.4 1302.8l16.4 -16.4M830 1287.2l16.4 16.4M830 1303.6l16.4 -16.4" stroke="#ff0000" stroke-width="5.5" fill="none"/>
<g font-size="65" fill="#0a0a0a">
<text x="58.5" y="98.2">(a)</text>
<text x="724.4" y="95.2">(b)</text>
<text x="1355.4" y="98.2">(c)</text>
<text x="57" y="774">(d)</text>
<text x="723" y="769.8">(e)</text>
</g>
<text transform="translate(60.5 376) rotate(-90)" font-size="54" fill="#151515" text-anchor="middle"><tspan font-style="italic">δ</tspan><tspan font-size="40" dy="12">2</tspan><tspan dy="-12" dx="6">(</tspan><tspan dx="1.5">°</tspan><tspan dx="2">)</tspan></text>
<text transform="translate(62 1059.7) rotate(-90)" font-size="54" fill="#151515" text-anchor="middle"><tspan font-style="italic">δ</tspan><tspan font-size="40" dy="12">2</tspan><tspan dy="-12" dx="6">(</tspan><tspan dx="1.5">°</tspan><tspan dx="2">)</tspan></text>
<text x="1705.2" y="781.5" font-size="54" fill="#151515" text-anchor="middle"><tspan font-style="italic">δ</tspan><tspan font-size="40" dy="12">1</tspan><tspan dy="-12" dx="6">(</tspan><tspan dx="1.5">°</tspan><tspan dx="2">)</tspan></text>
<text x="446.7" y="1432" font-size="54" fill="#151515" text-anchor="middle"><tspan font-style="italic">δ</tspan><tspan font-size="40" dy="12">1</tspan><tspan dy="-12" dx="6">(</tspan><tspan dx="1.5">°</tspan><tspan dx="2">)</tspan></text>
<text x="1073.2" y="1432" font-size="54" fill="#151515" text-anchor="middle"><tspan font-style="italic">δ</tspan><tspan font-size="40" dy="12">1</tspan><tspan dy="-12" dx="6">(</tspan><tspan dx="1.5">°</tspan><tspan dx="2">)</tspan></text>
<rect x="1474.3" y="971.5" width="486.2" height="330.4" fill="#ffffff" stroke="#5a5a5a" stroke-width="3.4"/>
<g fill="none" stroke-width="8.0">
<path d="M1482 1000.2H1560" stroke="#ff0000"/>
<path d="M1482 1054.5H1560" stroke="#00ff00" stroke-dasharray="31 32.5"/>
<path d="M1482 1109H1560" stroke="#0000ff" stroke-dasharray="7 9.4"/>
<path d="M1482 1163.2H1560" stroke="#000000" stroke-dasharray="31 8.25 16 8.25"/>
<path d="M1482 1217.8H1560" stroke="#00ffff"/>
<path d="M1482 1272.1H1560" stroke="#ff00ff" stroke-dasharray="31 32.5"/>
<path d="M1725 1000.2H1805.5" stroke="#ff0000" stroke-dasharray="7 9.4"/>
<path d="M1725 1054.5H1805.5" stroke="#00ff00" stroke-dasharray="31 8.25 16 8.25"/>
<path d="M1725 1109H1805.5" stroke="#0000ff"/>
<path d="M1725 1163.2H1805.5" stroke="#000000" stroke-dasharray="31 32.5"/>
<path d="M1725 1217.8H1805.5" stroke="#00ffff" stroke-dasharray="7 9.4"/>
</g>
<g font-size="47.5" fill="#222222" stroke="#222222">
<text x="1567.5" y="1016.7">R=0.1</text>
<text x="1567.5" y="1071">R=0.16</text>
<text x="1567.5" y="1125.5">R=0.25</text>
<text x="1567.5" y="1179.7">R=0.40</text>
<text x="1567.5" y="1234.3">R=0.63</text>
<text x="1567.5" y="1288.6">R=1.0</text>
<text x="1810.5" y="1016.7">R=1.6</text>
<text x="1810.5" y="1071">R=2.5</text>
<text x="1810.5" y="1125.5">R=4.0</text>
<text x="1810.5" y="1179.7">R=6.3</text>
<text x="1810.5" y="1234.3">R=10.0</text>
</g>
</g>
</svg>
</body>
</html>
